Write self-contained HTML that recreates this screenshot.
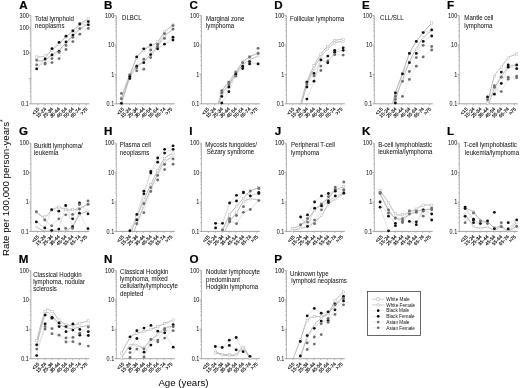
<!DOCTYPE html><html><head><meta charset="utf-8"><style>html,body{margin:0;padding:0;background:#fff;}svg{display:block;filter:blur(0.35px);} text{font-family:"Liberation Sans", sans-serif;}</style></head><body>
<svg width="520" height="388" viewBox="0 0 520 388">
<rect width="520" height="388" fill="#fff"/>
<text x="19.21" y="9.1" font-size="11.6" font-weight="bold" fill="#000" stroke="#000" stroke-width="0.2">A</text>
<path d="M30.9 15.6V103.8" fill="none" stroke="#b4b4b4" stroke-width="1"/>
<path d="M30.4 103.8H89.4" fill="none" stroke="#9a9a9a" stroke-width="0.9"/>
<path d="M30.9 103.8h-1.9M30.9 78.43h-1.9M30.9 53.07h-1.9M30.9 27.7h-1.9M30.9 15.6h-2.4" fill="none" stroke="#9a9a9a" stroke-width="0.8"/>
<path d="M30.9 96.16h-1.2M30.9 91.7h-1.2M30.9 88.53h-1.2M30.9 86.07h-1.2M30.9 84.06h-1.2M30.9 82.36h-1.2M30.9 80.89h-1.2M30.9 79.59h-1.2M30.9 70.8h-1.2M30.9 66.33h-1.2M30.9 63.16h-1.2M30.9 60.7h-1.2M30.9 58.7h-1.2M30.9 57h-1.2M30.9 55.53h-1.2M30.9 54.23h-1.2M30.9 45.43h-1.2M30.9 40.97h-1.2M30.9 37.8h-1.2M30.9 35.34h-1.2M30.9 33.33h-1.2M30.9 31.63h-1.2M30.9 30.16h-1.2M30.9 28.86h-1.2M30.9 20.07h-1.2M30.9 15.6h-1.2M37.9 103.8v1.6M44.8 103.8v1.6M51.7 103.8v1.6M58.6 103.8v1.6M65.5 103.8v1.6M72.4 103.8v1.6M79.3 103.8v1.6M86.2 103.8v1.6" fill="none" stroke="#9a9a9a" stroke-width="0.6"/>
<text x="0" y="0" font-size="5.8" text-anchor="end" fill="#222" stroke="#222" stroke-width="0.04" transform="translate(28.8 105.9) scale(0.95 1.13)">0.1</text>
<text x="0" y="0" font-size="5.8" text-anchor="end" fill="#222" stroke="#222" stroke-width="0.04" transform="translate(28.8 55.17) scale(0.95 1.13)">10</text>
<text x="0" y="0" font-size="5.8" text-anchor="end" fill="#222" stroke="#222" stroke-width="0.04" transform="translate(28.8 29.8) scale(0.95 1.13)">100</text>
<text x="0" y="0" font-size="5.8" text-anchor="end" fill="#222" stroke="#222" stroke-width="0.04" transform="translate(28.8 17.7) scale(0.95 1.13)">300</text>
<text x="0" y="0" font-size="4.8" text-anchor="end" fill="#000" stroke="#000" stroke-width="0.14" transform="translate(39.7 109.4) rotate(-45)">&lt;15</text>
<text x="0" y="0" font-size="4.8" text-anchor="end" fill="#000" stroke="#000" stroke-width="0.14" transform="translate(46.6 109.4) rotate(-45)">15-24</text>
<text x="0" y="0" font-size="4.8" text-anchor="end" fill="#000" stroke="#000" stroke-width="0.14" transform="translate(53.5 109.4) rotate(-45)">25-34</text>
<text x="0" y="0" font-size="4.8" text-anchor="end" fill="#000" stroke="#000" stroke-width="0.14" transform="translate(60.4 109.4) rotate(-45)">35-44</text>
<text x="0" y="0" font-size="4.8" text-anchor="end" fill="#000" stroke="#000" stroke-width="0.14" transform="translate(67.3 109.4) rotate(-45)">45-54</text>
<text x="0" y="0" font-size="4.8" text-anchor="end" fill="#000" stroke="#000" stroke-width="0.14" transform="translate(74.2 109.4) rotate(-45)">55-64</text>
<text x="0" y="0" font-size="4.8" text-anchor="end" fill="#000" stroke="#000" stroke-width="0.14" transform="translate(81.1 109.4) rotate(-45)">65-74</text>
<text x="0" y="0" font-size="4.8" text-anchor="end" fill="#000" stroke="#000" stroke-width="0.14" transform="translate(88 109.4) rotate(-45)">&gt;75</text>
<text x="0" y="0" font-size="6.1" fill="#111" stroke="#111" stroke-width="0.03" transform="translate(35 20.8) scale(1 1.12)">Total lymphoid</text>
<text x="0" y="0" font-size="6.1" fill="#111" stroke="#111" stroke-width="0.03" transform="translate(35 28.1) scale(1 1.12)">neoplasms</text>
<clipPath id="c1"><rect x="30.9" y="9.6" width="62.5" height="94.2"/></clipPath>
<g clip-path="url(#c1)">
<polyline points="36.7 68.9 45.1 59 52 48.7 59.1 42.4 66 36.2 72.9 30.8 79.8 24 88.3 21.6" fill="none" stroke="#cfcfcf" stroke-width="0.55"/>
<polyline points="36.7 68.9 45.1 59 52 54.9 59.1 51.3 66 41.9 72.9 35.1 79.8 24 88.3 24.8" fill="none" stroke="#cfcfcf" stroke-width="0.55"/>
<polyline points="36.7 60.1 45.1 63.1 52 58.6 59.1 52.4 66 45.4 72.9 37.3 79.8 28.6 88.3 28.4" fill="none" stroke="#dedede" stroke-width="0.55"/>
<polyline points="36.7 64.8 45.1 64 52 62.6 59.1 58.6 66 49.5 72.9 41.6 79.8 34.2 88.3 28.4" fill="none" stroke="#dedede" stroke-width="0.55"/>
<path d="M36.7 57C38.1 56.83 42.55 57.17 45.1 56C47.65 54.83 49.67 52 52 50C54.33 48 56.77 46.17 59.1 44C61.43 41.83 63.7 39.17 66 37C68.3 34.83 70.6 33.17 72.9 31C75.2 28.83 77.23 26 79.8 24C82.37 22 86.88 19.83 88.3 19" fill="none" stroke="#b2b2b2" stroke-width="0.9"/>
<path d="M36.7 61C38.1 60.83 42.55 61 45.1 60C47.65 59 49.67 56.67 52 55C54.33 53.33 56.77 52 59.1 50C61.43 48 63.7 45.33 66 43C68.3 40.67 70.6 38.33 72.9 36C75.2 33.67 77.23 31 79.8 29C82.37 27 86.88 24.83 88.3 24" fill="none" stroke="#b2b2b2" stroke-width="0.9"/>
</g>
<rect x="35.55" y="55.85" width="2.3" height="2.3" fill="#fff" stroke="#b8b8b8" stroke-width="0.5"/>
<rect x="43.95" y="54.85" width="2.3" height="2.3" fill="#fff" stroke="#b8b8b8" stroke-width="0.5"/>
<rect x="50.85" y="48.85" width="2.3" height="2.3" fill="#fff" stroke="#b8b8b8" stroke-width="0.5"/>
<rect x="57.95" y="42.85" width="2.3" height="2.3" fill="#fff" stroke="#b8b8b8" stroke-width="0.5"/>
<rect x="64.85" y="35.85" width="2.3" height="2.3" fill="#fff" stroke="#b8b8b8" stroke-width="0.5"/>
<rect x="71.75" y="29.85" width="2.3" height="2.3" fill="#fff" stroke="#b8b8b8" stroke-width="0.5"/>
<rect x="78.65" y="22.85" width="2.3" height="2.3" fill="#fff" stroke="#b8b8b8" stroke-width="0.5"/>
<rect x="87.15" y="17.85" width="2.3" height="2.3" fill="#fff" stroke="#b8b8b8" stroke-width="0.5"/>
<circle cx="36.7" cy="61" r="1.15" fill="#fff" stroke="#b8b8b8" stroke-width="0.5"/>
<circle cx="45.1" cy="60" r="1.15" fill="#fff" stroke="#b8b8b8" stroke-width="0.5"/>
<circle cx="52" cy="55" r="1.15" fill="#fff" stroke="#b8b8b8" stroke-width="0.5"/>
<circle cx="59.1" cy="50" r="1.15" fill="#fff" stroke="#b8b8b8" stroke-width="0.5"/>
<circle cx="66" cy="43" r="1.15" fill="#fff" stroke="#b8b8b8" stroke-width="0.5"/>
<circle cx="72.9" cy="36" r="1.15" fill="#fff" stroke="#b8b8b8" stroke-width="0.5"/>
<circle cx="79.8" cy="29" r="1.15" fill="#fff" stroke="#b8b8b8" stroke-width="0.5"/>
<circle cx="88.3" cy="24" r="1.15" fill="#fff" stroke="#b8b8b8" stroke-width="0.5"/>
<circle cx="36.7" cy="60.1" r="1.42" fill="#6e6e6e"/>
<circle cx="36.7" cy="64.8" r="1.42" fill="#6e6e6e"/>
<circle cx="36.7" cy="68.9" r="1.42" fill="#111"/>
<circle cx="45.1" cy="59" r="1.42" fill="#111"/>
<circle cx="45.1" cy="63.1" r="1.42" fill="#6e6e6e"/>
<circle cx="45.1" cy="64" r="1.42" fill="#6e6e6e"/>
<circle cx="52" cy="48.7" r="1.42" fill="#111"/>
<circle cx="52" cy="54.9" r="1.42" fill="#111"/>
<circle cx="52" cy="58.6" r="1.42" fill="#6e6e6e"/>
<circle cx="52" cy="62.6" r="1.42" fill="#6e6e6e"/>
<circle cx="59.1" cy="42.4" r="1.42" fill="#111"/>
<circle cx="59.1" cy="51.3" r="1.42" fill="#111"/>
<circle cx="59.1" cy="52.4" r="1.42" fill="#6e6e6e"/>
<circle cx="59.1" cy="58.6" r="1.42" fill="#6e6e6e"/>
<circle cx="66" cy="36.2" r="1.42" fill="#111"/>
<circle cx="66" cy="41.9" r="1.42" fill="#111"/>
<circle cx="66" cy="45.4" r="1.42" fill="#6e6e6e"/>
<circle cx="66" cy="49.5" r="1.42" fill="#6e6e6e"/>
<circle cx="72.9" cy="30.8" r="1.42" fill="#111"/>
<circle cx="72.9" cy="35.1" r="1.42" fill="#111"/>
<circle cx="72.9" cy="37.3" r="1.42" fill="#6e6e6e"/>
<circle cx="72.9" cy="41.6" r="1.42" fill="#6e6e6e"/>
<circle cx="79.8" cy="24" r="1.42" fill="#111"/>
<circle cx="79.8" cy="28.6" r="1.42" fill="#6e6e6e"/>
<circle cx="79.8" cy="34.2" r="1.42" fill="#6e6e6e"/>
<circle cx="88.3" cy="21.6" r="1.42" fill="#111"/>
<circle cx="88.3" cy="24.8" r="1.42" fill="#111"/>
<circle cx="88.3" cy="28.4" r="1.42" fill="#6e6e6e"/>
<text x="104.12" y="9.1" font-size="11.6" font-weight="bold" fill="#000" stroke="#000" stroke-width="0.2">B</text>
<path d="M116.3 15.6V103.8" fill="none" stroke="#b4b4b4" stroke-width="1"/>
<path d="M115.8 103.8H174.8" fill="none" stroke="#9a9a9a" stroke-width="0.9"/>
<path d="M116.3 103.8h-1.9M116.3 74.4h-1.9M116.3 45h-1.9M116.3 15.6h-1.9" fill="none" stroke="#9a9a9a" stroke-width="0.8"/>
<path d="M116.3 94.95h-1.2M116.3 89.77h-1.2M116.3 86.1h-1.2M116.3 83.25h-1.2M116.3 80.92h-1.2M116.3 78.95h-1.2M116.3 77.25h-1.2M116.3 75.75h-1.2M116.3 65.55h-1.2M116.3 60.37h-1.2M116.3 56.7h-1.2M116.3 53.85h-1.2M116.3 51.52h-1.2M116.3 49.55h-1.2M116.3 47.85h-1.2M116.3 46.35h-1.2M116.3 36.15h-1.2M116.3 30.97h-1.2M116.3 27.3h-1.2M116.3 24.45h-1.2M116.3 22.12h-1.2M116.3 20.15h-1.2M116.3 18.45h-1.2M116.3 16.95h-1.2M122.6 103.8v1.6M129.5 103.8v1.6M136.4 103.8v1.6M143.3 103.8v1.6M150.2 103.8v1.6M157.1 103.8v1.6M164 103.8v1.6M170.9 103.8v1.6" fill="none" stroke="#9a9a9a" stroke-width="0.6"/>
<text x="0" y="0" font-size="5.8" text-anchor="end" fill="#222" stroke="#222" stroke-width="0.04" transform="translate(114.2 105.9) scale(0.95 1.13)">0.1</text>
<text x="0" y="0" font-size="5.8" text-anchor="end" fill="#222" stroke="#222" stroke-width="0.04" transform="translate(114.2 76.5) scale(0.95 1.13)">1</text>
<text x="0" y="0" font-size="5.8" text-anchor="end" fill="#222" stroke="#222" stroke-width="0.04" transform="translate(114.2 47.1) scale(0.95 1.13)">10</text>
<text x="0" y="0" font-size="5.8" text-anchor="end" fill="#222" stroke="#222" stroke-width="0.04" transform="translate(114.2 17.7) scale(0.95 1.13)">100</text>
<text x="0" y="0" font-size="4.8" text-anchor="end" fill="#000" stroke="#000" stroke-width="0.14" transform="translate(124.4 109.4) rotate(-45)">&lt;15</text>
<text x="0" y="0" font-size="4.8" text-anchor="end" fill="#000" stroke="#000" stroke-width="0.14" transform="translate(131.3 109.4) rotate(-45)">15-24</text>
<text x="0" y="0" font-size="4.8" text-anchor="end" fill="#000" stroke="#000" stroke-width="0.14" transform="translate(138.2 109.4) rotate(-45)">25-34</text>
<text x="0" y="0" font-size="4.8" text-anchor="end" fill="#000" stroke="#000" stroke-width="0.14" transform="translate(145.1 109.4) rotate(-45)">35-44</text>
<text x="0" y="0" font-size="4.8" text-anchor="end" fill="#000" stroke="#000" stroke-width="0.14" transform="translate(152 109.4) rotate(-45)">45-54</text>
<text x="0" y="0" font-size="4.8" text-anchor="end" fill="#000" stroke="#000" stroke-width="0.14" transform="translate(158.9 109.4) rotate(-45)">55-64</text>
<text x="0" y="0" font-size="4.8" text-anchor="end" fill="#000" stroke="#000" stroke-width="0.14" transform="translate(165.8 109.4) rotate(-45)">65-74</text>
<text x="0" y="0" font-size="4.8" text-anchor="end" fill="#000" stroke="#000" stroke-width="0.14" transform="translate(172.7 109.4) rotate(-45)">&gt;75</text>
<text x="0" y="0" font-size="6.1" fill="#111" stroke="#111" stroke-width="0.03" transform="translate(122 20.2) scale(1 1.12)">DLBCL</text>
<clipPath id="c2"><rect x="116.3" y="9.6" width="62.5" height="94.2"/></clipPath>
<g clip-path="url(#c2)">
<polyline points="121.4 103.3 129.8 76.6 136.7 56.9 143.8 48.8 150.7 44.9 157.6 48.8 164.5 44.2 173 37.2" fill="none" stroke="#cfcfcf" stroke-width="0.55"/>
<polyline points="121.4 103.3 129.8 78.5 136.7 66.2 143.8 62.7 150.7 54.6 157.6 48.8 164.5 44.2 173 40" fill="none" stroke="#cfcfcf" stroke-width="0.55"/>
<polyline points="121.4 93.4 129.8 74.8 136.7 68.1 143.8 59.2 150.7 50 157.6 44.2 164.5 33.7 173 25.6" fill="none" stroke="#dedede" stroke-width="0.55"/>
<polyline points="121.4 98.7 129.8 74.8 136.7 70.8 143.8 69.2 150.7 57.6 157.6 46.5 164.5 38.4 173 29.1" fill="none" stroke="#dedede" stroke-width="0.55"/>
<path d="M121.4 98C122.8 94.17 127.25 81.67 129.8 75C132.35 68.33 134.37 62.17 136.7 58C139.03 53.83 141.47 52 143.8 50C146.13 48 148.4 47.33 150.7 46C153 44.67 155.3 44.33 157.6 42C159.9 39.67 161.93 34.83 164.5 32C167.07 29.17 171.58 26.17 173 25" fill="none" stroke="#b2b2b2" stroke-width="0.9"/>
<path d="M121.4 103C122.8 98.67 127.25 83.17 129.8 77C132.35 70.83 134.37 68.5 136.7 66C139.03 63.5 141.47 64 143.8 62C146.13 60 148.4 56.67 150.7 54C153 51.33 155.3 49 157.6 46C159.9 43 161.93 38.83 164.5 36C167.07 33.17 171.58 30.17 173 29" fill="none" stroke="#b2b2b2" stroke-width="0.9"/>
</g>
<rect x="120.25" y="96.85" width="2.3" height="2.3" fill="#fff" stroke="#b8b8b8" stroke-width="0.5"/>
<rect x="128.65" y="73.85" width="2.3" height="2.3" fill="#fff" stroke="#b8b8b8" stroke-width="0.5"/>
<rect x="135.55" y="56.85" width="2.3" height="2.3" fill="#fff" stroke="#b8b8b8" stroke-width="0.5"/>
<rect x="142.65" y="48.85" width="2.3" height="2.3" fill="#fff" stroke="#b8b8b8" stroke-width="0.5"/>
<rect x="149.55" y="44.85" width="2.3" height="2.3" fill="#fff" stroke="#b8b8b8" stroke-width="0.5"/>
<rect x="156.45" y="40.85" width="2.3" height="2.3" fill="#fff" stroke="#b8b8b8" stroke-width="0.5"/>
<rect x="163.35" y="30.85" width="2.3" height="2.3" fill="#fff" stroke="#b8b8b8" stroke-width="0.5"/>
<rect x="171.85" y="23.85" width="2.3" height="2.3" fill="#fff" stroke="#b8b8b8" stroke-width="0.5"/>
<circle cx="121.4" cy="103" r="1.15" fill="#fff" stroke="#b8b8b8" stroke-width="0.5"/>
<circle cx="129.8" cy="77" r="1.15" fill="#fff" stroke="#b8b8b8" stroke-width="0.5"/>
<circle cx="136.7" cy="66" r="1.15" fill="#fff" stroke="#b8b8b8" stroke-width="0.5"/>
<circle cx="143.8" cy="62" r="1.15" fill="#fff" stroke="#b8b8b8" stroke-width="0.5"/>
<circle cx="150.7" cy="54" r="1.15" fill="#fff" stroke="#b8b8b8" stroke-width="0.5"/>
<circle cx="157.6" cy="46" r="1.15" fill="#fff" stroke="#b8b8b8" stroke-width="0.5"/>
<circle cx="164.5" cy="36" r="1.15" fill="#fff" stroke="#b8b8b8" stroke-width="0.5"/>
<circle cx="173" cy="29" r="1.15" fill="#fff" stroke="#b8b8b8" stroke-width="0.5"/>
<circle cx="121.4" cy="93.4" r="1.42" fill="#6e6e6e"/>
<circle cx="121.4" cy="98.7" r="1.42" fill="#6e6e6e"/>
<circle cx="121.4" cy="103.3" r="1.42" fill="#111"/>
<circle cx="129.8" cy="74.8" r="1.42" fill="#6e6e6e"/>
<circle cx="129.8" cy="76.6" r="1.42" fill="#111"/>
<circle cx="129.8" cy="78.5" r="1.42" fill="#111"/>
<circle cx="136.7" cy="56.9" r="1.42" fill="#111"/>
<circle cx="136.7" cy="66.2" r="1.42" fill="#111"/>
<circle cx="136.7" cy="68.1" r="1.42" fill="#6e6e6e"/>
<circle cx="136.7" cy="70.8" r="1.42" fill="#6e6e6e"/>
<circle cx="143.8" cy="48.8" r="1.42" fill="#111"/>
<circle cx="143.8" cy="59.2" r="1.42" fill="#6e6e6e"/>
<circle cx="143.8" cy="62.7" r="1.42" fill="#111"/>
<circle cx="143.8" cy="69.2" r="1.42" fill="#6e6e6e"/>
<circle cx="150.7" cy="44.9" r="1.42" fill="#111"/>
<circle cx="150.7" cy="50" r="1.42" fill="#6e6e6e"/>
<circle cx="150.7" cy="54.6" r="1.42" fill="#111"/>
<circle cx="150.7" cy="57.6" r="1.42" fill="#6e6e6e"/>
<circle cx="157.6" cy="44.2" r="1.42" fill="#6e6e6e"/>
<circle cx="157.6" cy="46.5" r="1.42" fill="#6e6e6e"/>
<circle cx="157.6" cy="48.8" r="1.42" fill="#111"/>
<circle cx="164.5" cy="33.7" r="1.42" fill="#6e6e6e"/>
<circle cx="164.5" cy="38.4" r="1.42" fill="#6e6e6e"/>
<circle cx="164.5" cy="44.2" r="1.42" fill="#111"/>
<circle cx="173" cy="25.6" r="1.42" fill="#6e6e6e"/>
<circle cx="173" cy="29.1" r="1.42" fill="#6e6e6e"/>
<circle cx="173" cy="37.2" r="1.42" fill="#111"/>
<circle cx="173" cy="40" r="1.42" fill="#111"/>
<text x="189.52" y="9.1" font-size="11.6" font-weight="bold" fill="#000" stroke="#000" stroke-width="0.2">C</text>
<path d="M201.4 15.6V103.8" fill="none" stroke="#b4b4b4" stroke-width="1"/>
<path d="M200.9 103.8H259.9" fill="none" stroke="#9a9a9a" stroke-width="0.9"/>
<path d="M201.4 103.8h-1.9M201.4 74.4h-1.9M201.4 45h-1.9M201.4 15.6h-1.9" fill="none" stroke="#9a9a9a" stroke-width="0.8"/>
<path d="M201.4 94.95h-1.2M201.4 89.77h-1.2M201.4 86.1h-1.2M201.4 83.25h-1.2M201.4 80.92h-1.2M201.4 78.95h-1.2M201.4 77.25h-1.2M201.4 75.75h-1.2M201.4 65.55h-1.2M201.4 60.37h-1.2M201.4 56.7h-1.2M201.4 53.85h-1.2M201.4 51.52h-1.2M201.4 49.55h-1.2M201.4 47.85h-1.2M201.4 46.35h-1.2M201.4 36.15h-1.2M201.4 30.97h-1.2M201.4 27.3h-1.2M201.4 24.45h-1.2M201.4 22.12h-1.2M201.4 20.15h-1.2M201.4 18.45h-1.2M201.4 16.95h-1.2M207.7 103.8v1.6M214.6 103.8v1.6M221.5 103.8v1.6M228.4 103.8v1.6M235.3 103.8v1.6M242.2 103.8v1.6M249.1 103.8v1.6M256 103.8v1.6" fill="none" stroke="#9a9a9a" stroke-width="0.6"/>
<text x="0" y="0" font-size="5.8" text-anchor="end" fill="#222" stroke="#222" stroke-width="0.04" transform="translate(199.3 105.9) scale(0.95 1.13)">0.1</text>
<text x="0" y="0" font-size="5.8" text-anchor="end" fill="#222" stroke="#222" stroke-width="0.04" transform="translate(199.3 76.5) scale(0.95 1.13)">1</text>
<text x="0" y="0" font-size="5.8" text-anchor="end" fill="#222" stroke="#222" stroke-width="0.04" transform="translate(199.3 47.1) scale(0.95 1.13)">10</text>
<text x="0" y="0" font-size="5.8" text-anchor="end" fill="#222" stroke="#222" stroke-width="0.04" transform="translate(199.3 17.7) scale(0.95 1.13)">100</text>
<text x="0" y="0" font-size="4.8" text-anchor="end" fill="#000" stroke="#000" stroke-width="0.14" transform="translate(209.5 109.4) rotate(-45)">&lt;15</text>
<text x="0" y="0" font-size="4.8" text-anchor="end" fill="#000" stroke="#000" stroke-width="0.14" transform="translate(216.4 109.4) rotate(-45)">15-24</text>
<text x="0" y="0" font-size="4.8" text-anchor="end" fill="#000" stroke="#000" stroke-width="0.14" transform="translate(223.3 109.4) rotate(-45)">25-34</text>
<text x="0" y="0" font-size="4.8" text-anchor="end" fill="#000" stroke="#000" stroke-width="0.14" transform="translate(230.2 109.4) rotate(-45)">35-44</text>
<text x="0" y="0" font-size="4.8" text-anchor="end" fill="#000" stroke="#000" stroke-width="0.14" transform="translate(237.1 109.4) rotate(-45)">45-54</text>
<text x="0" y="0" font-size="4.8" text-anchor="end" fill="#000" stroke="#000" stroke-width="0.14" transform="translate(244 109.4) rotate(-45)">55-64</text>
<text x="0" y="0" font-size="4.8" text-anchor="end" fill="#000" stroke="#000" stroke-width="0.14" transform="translate(250.9 109.4) rotate(-45)">65-74</text>
<text x="0" y="0" font-size="4.8" text-anchor="end" fill="#000" stroke="#000" stroke-width="0.14" transform="translate(257.8 109.4) rotate(-45)">&gt;75</text>
<text x="0" y="0" font-size="6.1" fill="#111" stroke="#111" stroke-width="0.03" transform="translate(206 20.8) scale(1 1.12)">Marginal zone</text>
<text x="0" y="0" font-size="6.1" fill="#111" stroke="#111" stroke-width="0.03" transform="translate(206 28.1) scale(1 1.12)">lymphoma</text>
<clipPath id="c3"><rect x="201.4" y="9.6" width="62.5" height="94.2"/></clipPath>
<g clip-path="url(#c3)">
<polyline points="221.8 96.4 228.9 87.1 235.8 74.3 242.7 66.2 249.6 61.6 258.1 63.9" fill="none" stroke="#cfcfcf" stroke-width="0.55"/>
<polyline points="221.8 102.9 228.9 91.7 235.8 74.3 242.7 68.5 249.6 63.9 258.1 63.9" fill="none" stroke="#cfcfcf" stroke-width="0.55"/>
<polyline points="221.8 90.6 228.9 82.4 235.8 72.5 242.7 62.7 249.6 56.9 258.1 48.3" fill="none" stroke="#dedede" stroke-width="0.55"/>
<polyline points="221.8 92.9 228.9 84.8 235.8 76.2 242.7 62.7 249.6 56.9 258.1 53.4" fill="none" stroke="#dedede" stroke-width="0.55"/>
<path d="M214.9 116C216.05 112 219.47 97.67 221.8 92C224.13 86.33 226.57 85.33 228.9 82C231.23 78.67 233.5 75.33 235.8 72C238.1 68.67 240.4 64.5 242.7 62C245 59.5 247.03 58.5 249.6 57C252.17 55.5 256.68 53.67 258.1 53" fill="none" stroke="#b2b2b2" stroke-width="0.9"/>
<path d="M214.9 120C216.05 115.83 219.47 100.83 221.8 95C224.13 89.17 226.57 88.5 228.9 85C231.23 81.5 233.5 77.33 235.8 74C238.1 70.67 240.4 67.33 242.7 65C245 62.67 247.03 61.5 249.6 60C252.17 58.5 256.68 56.67 258.1 56" fill="none" stroke="#b2b2b2" stroke-width="0.9"/>
</g>
<rect x="220.65" y="90.85" width="2.3" height="2.3" fill="#fff" stroke="#b8b8b8" stroke-width="0.5"/>
<rect x="227.75" y="80.85" width="2.3" height="2.3" fill="#fff" stroke="#b8b8b8" stroke-width="0.5"/>
<rect x="234.65" y="70.85" width="2.3" height="2.3" fill="#fff" stroke="#b8b8b8" stroke-width="0.5"/>
<rect x="241.55" y="60.85" width="2.3" height="2.3" fill="#fff" stroke="#b8b8b8" stroke-width="0.5"/>
<rect x="248.45" y="55.85" width="2.3" height="2.3" fill="#fff" stroke="#b8b8b8" stroke-width="0.5"/>
<rect x="256.95" y="51.85" width="2.3" height="2.3" fill="#fff" stroke="#b8b8b8" stroke-width="0.5"/>
<circle cx="221.8" cy="95" r="1.15" fill="#fff" stroke="#b8b8b8" stroke-width="0.5"/>
<circle cx="228.9" cy="85" r="1.15" fill="#fff" stroke="#b8b8b8" stroke-width="0.5"/>
<circle cx="235.8" cy="74" r="1.15" fill="#fff" stroke="#b8b8b8" stroke-width="0.5"/>
<circle cx="242.7" cy="65" r="1.15" fill="#fff" stroke="#b8b8b8" stroke-width="0.5"/>
<circle cx="249.6" cy="60" r="1.15" fill="#fff" stroke="#b8b8b8" stroke-width="0.5"/>
<circle cx="258.1" cy="56" r="1.15" fill="#fff" stroke="#b8b8b8" stroke-width="0.5"/>
<circle cx="221.8" cy="90.6" r="1.42" fill="#6e6e6e"/>
<circle cx="221.8" cy="92.9" r="1.42" fill="#6e6e6e"/>
<circle cx="221.8" cy="96.4" r="1.42" fill="#111"/>
<circle cx="221.8" cy="102.9" r="1.42" fill="#111"/>
<circle cx="228.9" cy="82.4" r="1.42" fill="#6e6e6e"/>
<circle cx="228.9" cy="84.8" r="1.42" fill="#6e6e6e"/>
<circle cx="228.9" cy="87.1" r="1.42" fill="#111"/>
<circle cx="228.9" cy="91.7" r="1.42" fill="#111"/>
<circle cx="235.8" cy="72.5" r="1.42" fill="#6e6e6e"/>
<circle cx="235.8" cy="74.3" r="1.42" fill="#111"/>
<circle cx="235.8" cy="76.2" r="1.42" fill="#6e6e6e"/>
<circle cx="242.7" cy="62.7" r="1.42" fill="#6e6e6e"/>
<circle cx="242.7" cy="66.2" r="1.42" fill="#111"/>
<circle cx="242.7" cy="68.5" r="1.42" fill="#111"/>
<circle cx="249.6" cy="56.9" r="1.42" fill="#6e6e6e"/>
<circle cx="249.6" cy="61.6" r="1.42" fill="#111"/>
<circle cx="249.6" cy="63.9" r="1.42" fill="#111"/>
<circle cx="258.1" cy="48.3" r="1.42" fill="#6e6e6e"/>
<circle cx="258.1" cy="53.4" r="1.42" fill="#6e6e6e"/>
<circle cx="258.1" cy="63.9" r="1.42" fill="#111"/>
<text x="274.22" y="9.1" font-size="11.6" font-weight="bold" fill="#000" stroke="#000" stroke-width="0.2">D</text>
<path d="M286.4 15.6V103.8" fill="none" stroke="#b4b4b4" stroke-width="1"/>
<path d="M285.9 103.8H344.9" fill="none" stroke="#9a9a9a" stroke-width="0.9"/>
<path d="M286.4 103.8h-1.9M286.4 74.4h-1.9M286.4 45h-1.9M286.4 15.6h-1.9" fill="none" stroke="#9a9a9a" stroke-width="0.8"/>
<path d="M286.4 94.95h-1.2M286.4 89.77h-1.2M286.4 86.1h-1.2M286.4 83.25h-1.2M286.4 80.92h-1.2M286.4 78.95h-1.2M286.4 77.25h-1.2M286.4 75.75h-1.2M286.4 65.55h-1.2M286.4 60.37h-1.2M286.4 56.7h-1.2M286.4 53.85h-1.2M286.4 51.52h-1.2M286.4 49.55h-1.2M286.4 47.85h-1.2M286.4 46.35h-1.2M286.4 36.15h-1.2M286.4 30.97h-1.2M286.4 27.3h-1.2M286.4 24.45h-1.2M286.4 22.12h-1.2M286.4 20.15h-1.2M286.4 18.45h-1.2M286.4 16.95h-1.2M292.8 103.8v1.6M299.7 103.8v1.6M306.6 103.8v1.6M313.5 103.8v1.6M320.4 103.8v1.6M327.3 103.8v1.6M334.2 103.8v1.6M341.1 103.8v1.6" fill="none" stroke="#9a9a9a" stroke-width="0.6"/>
<text x="0" y="0" font-size="5.8" text-anchor="end" fill="#222" stroke="#222" stroke-width="0.04" transform="translate(284.3 105.9) scale(0.95 1.13)">0.1</text>
<text x="0" y="0" font-size="5.8" text-anchor="end" fill="#222" stroke="#222" stroke-width="0.04" transform="translate(284.3 76.5) scale(0.95 1.13)">1</text>
<text x="0" y="0" font-size="5.8" text-anchor="end" fill="#222" stroke="#222" stroke-width="0.04" transform="translate(284.3 47.1) scale(0.95 1.13)">10</text>
<text x="0" y="0" font-size="5.8" text-anchor="end" fill="#222" stroke="#222" stroke-width="0.04" transform="translate(284.3 17.7) scale(0.95 1.13)">100</text>
<text x="0" y="0" font-size="4.8" text-anchor="end" fill="#000" stroke="#000" stroke-width="0.14" transform="translate(294.6 109.4) rotate(-45)">&lt;15</text>
<text x="0" y="0" font-size="4.8" text-anchor="end" fill="#000" stroke="#000" stroke-width="0.14" transform="translate(301.5 109.4) rotate(-45)">15-24</text>
<text x="0" y="0" font-size="4.8" text-anchor="end" fill="#000" stroke="#000" stroke-width="0.14" transform="translate(308.4 109.4) rotate(-45)">25-34</text>
<text x="0" y="0" font-size="4.8" text-anchor="end" fill="#000" stroke="#000" stroke-width="0.14" transform="translate(315.3 109.4) rotate(-45)">35-44</text>
<text x="0" y="0" font-size="4.8" text-anchor="end" fill="#000" stroke="#000" stroke-width="0.14" transform="translate(322.2 109.4) rotate(-45)">45-54</text>
<text x="0" y="0" font-size="4.8" text-anchor="end" fill="#000" stroke="#000" stroke-width="0.14" transform="translate(329.1 109.4) rotate(-45)">55-64</text>
<text x="0" y="0" font-size="4.8" text-anchor="end" fill="#000" stroke="#000" stroke-width="0.14" transform="translate(336 109.4) rotate(-45)">65-74</text>
<text x="0" y="0" font-size="4.8" text-anchor="end" fill="#000" stroke="#000" stroke-width="0.14" transform="translate(342.9 109.4) rotate(-45)">&gt;75</text>
<text x="0" y="0" font-size="6.1" fill="#111" stroke="#111" stroke-width="0.03" transform="translate(290 20.8) scale(1 1.12)">Follicular lymphoma</text>
<clipPath id="c4"><rect x="286.4" y="9.6" width="62.5" height="94.2"/></clipPath>
<g clip-path="url(#c4)">
<polyline points="306.9 82.1 314 73.4 320.9 59.9 327.8 56.1 334.7 50.3 343.2 47.8" fill="none" stroke="#cfcfcf" stroke-width="0.55"/>
<polyline points="306.9 87 314 81.2 320.9 59.9 327.8 62.8 334.7 52.2 343.2 50.3" fill="none" stroke="#cfcfcf" stroke-width="0.55"/>
<polyline points="306.9 99.1 314 81.2 320.9 59.9 327.8 62.8 334.7 52.2 343.2 50.3" fill="none" stroke="#cfcfcf" stroke-width="0.55"/>
<polyline points="306.9 84 314 75.8 320.9 66.1 327.8 60.9 334.7 54.7 343.2 55.1" fill="none" stroke="#dedede" stroke-width="0.55"/>
<polyline points="306.9 84 314 75.8 320.9 70.5 327.8 60.9 334.7 54.7 343.2 55.1" fill="none" stroke="#dedede" stroke-width="0.55"/>
<path d="M300 106C301.15 102.02 304.57 88.82 306.9 82.1C309.23 75.38 311.67 70.37 314 65.7C316.33 61.03 318.6 57.32 320.9 54.1C323.2 50.88 325.5 48.65 327.8 46.4C330.1 44.15 332.13 41.78 334.7 40.6C337.27 39.42 341.78 39.52 343.2 39.3" fill="none" stroke="#b2b2b2" stroke-width="0.9"/>
<path d="M300 110C301.15 105.83 304.57 91.92 306.9 85C309.23 78.08 311.67 73.17 314 68.5C316.33 63.83 318.6 60.25 320.9 57C323.2 53.75 325.5 51.33 327.8 49C330.1 46.67 332.13 44.25 334.7 43C337.27 41.75 341.78 41.75 343.2 41.5" fill="none" stroke="#b2b2b2" stroke-width="0.9"/>
</g>
<rect x="305.75" y="80.95" width="2.3" height="2.3" fill="#fff" stroke="#b8b8b8" stroke-width="0.5"/>
<rect x="312.85" y="64.55" width="2.3" height="2.3" fill="#fff" stroke="#b8b8b8" stroke-width="0.5"/>
<rect x="319.75" y="52.95" width="2.3" height="2.3" fill="#fff" stroke="#b8b8b8" stroke-width="0.5"/>
<rect x="326.65" y="45.25" width="2.3" height="2.3" fill="#fff" stroke="#b8b8b8" stroke-width="0.5"/>
<rect x="333.55" y="39.45" width="2.3" height="2.3" fill="#fff" stroke="#b8b8b8" stroke-width="0.5"/>
<rect x="342.05" y="38.15" width="2.3" height="2.3" fill="#fff" stroke="#b8b8b8" stroke-width="0.5"/>
<circle cx="306.9" cy="85" r="1.15" fill="#fff" stroke="#b8b8b8" stroke-width="0.5"/>
<circle cx="314" cy="68.5" r="1.15" fill="#fff" stroke="#b8b8b8" stroke-width="0.5"/>
<circle cx="320.9" cy="57" r="1.15" fill="#fff" stroke="#b8b8b8" stroke-width="0.5"/>
<circle cx="327.8" cy="49" r="1.15" fill="#fff" stroke="#b8b8b8" stroke-width="0.5"/>
<circle cx="334.7" cy="43" r="1.15" fill="#fff" stroke="#b8b8b8" stroke-width="0.5"/>
<circle cx="343.2" cy="41.5" r="1.15" fill="#fff" stroke="#b8b8b8" stroke-width="0.5"/>
<circle cx="306.9" cy="82.1" r="1.42" fill="#111"/>
<circle cx="306.9" cy="84" r="1.42" fill="#6e6e6e"/>
<circle cx="306.9" cy="87" r="1.42" fill="#111"/>
<circle cx="306.9" cy="99.1" r="1.42" fill="#111"/>
<circle cx="314" cy="73.4" r="1.42" fill="#111"/>
<circle cx="314" cy="75.8" r="1.42" fill="#6e6e6e"/>
<circle cx="314" cy="81.2" r="1.42" fill="#111"/>
<circle cx="320.9" cy="59.9" r="1.42" fill="#111"/>
<circle cx="320.9" cy="66.1" r="1.42" fill="#6e6e6e"/>
<circle cx="320.9" cy="70.5" r="1.42" fill="#6e6e6e"/>
<circle cx="327.8" cy="56.1" r="1.42" fill="#111"/>
<circle cx="327.8" cy="60.9" r="1.42" fill="#6e6e6e"/>
<circle cx="327.8" cy="62.8" r="1.42" fill="#111"/>
<circle cx="334.7" cy="50.3" r="1.42" fill="#111"/>
<circle cx="334.7" cy="52.2" r="1.42" fill="#111"/>
<circle cx="334.7" cy="54.7" r="1.42" fill="#6e6e6e"/>
<circle cx="343.2" cy="47.8" r="1.42" fill="#111"/>
<circle cx="343.2" cy="50.3" r="1.42" fill="#111"/>
<circle cx="343.2" cy="55.1" r="1.42" fill="#6e6e6e"/>
<text x="362.12" y="9.1" font-size="11.6" font-weight="bold" fill="#000" stroke="#000" stroke-width="0.2">E</text>
<path d="M374.3 15.6V103.8" fill="none" stroke="#b4b4b4" stroke-width="1"/>
<path d="M373.8 103.8H432.8" fill="none" stroke="#9a9a9a" stroke-width="0.9"/>
<path d="M374.3 103.8h-1.9M374.3 74.4h-1.9M374.3 45h-1.9M374.3 15.6h-1.9" fill="none" stroke="#9a9a9a" stroke-width="0.8"/>
<path d="M374.3 94.95h-1.2M374.3 89.77h-1.2M374.3 86.1h-1.2M374.3 83.25h-1.2M374.3 80.92h-1.2M374.3 78.95h-1.2M374.3 77.25h-1.2M374.3 75.75h-1.2M374.3 65.55h-1.2M374.3 60.37h-1.2M374.3 56.7h-1.2M374.3 53.85h-1.2M374.3 51.52h-1.2M374.3 49.55h-1.2M374.3 47.85h-1.2M374.3 46.35h-1.2M374.3 36.15h-1.2M374.3 30.97h-1.2M374.3 27.3h-1.2M374.3 24.45h-1.2M374.3 22.12h-1.2M374.3 20.15h-1.2M374.3 18.45h-1.2M374.3 16.95h-1.2M381.3 103.8v1.6M388.2 103.8v1.6M395.1 103.8v1.6M402 103.8v1.6M408.9 103.8v1.6M415.8 103.8v1.6M422.7 103.8v1.6M429.6 103.8v1.6" fill="none" stroke="#9a9a9a" stroke-width="0.6"/>
<text x="0" y="0" font-size="5.8" text-anchor="end" fill="#222" stroke="#222" stroke-width="0.04" transform="translate(372.2 105.9) scale(0.95 1.13)">0.1</text>
<text x="0" y="0" font-size="5.8" text-anchor="end" fill="#222" stroke="#222" stroke-width="0.04" transform="translate(372.2 76.5) scale(0.95 1.13)">1</text>
<text x="0" y="0" font-size="5.8" text-anchor="end" fill="#222" stroke="#222" stroke-width="0.04" transform="translate(372.2 47.1) scale(0.95 1.13)">10</text>
<text x="0" y="0" font-size="5.8" text-anchor="end" fill="#222" stroke="#222" stroke-width="0.04" transform="translate(372.2 17.7) scale(0.95 1.13)">100</text>
<text x="0" y="0" font-size="4.8" text-anchor="end" fill="#000" stroke="#000" stroke-width="0.14" transform="translate(383.1 109.4) rotate(-45)">&lt;15</text>
<text x="0" y="0" font-size="4.8" text-anchor="end" fill="#000" stroke="#000" stroke-width="0.14" transform="translate(390 109.4) rotate(-45)">15-24</text>
<text x="0" y="0" font-size="4.8" text-anchor="end" fill="#000" stroke="#000" stroke-width="0.14" transform="translate(396.9 109.4) rotate(-45)">25-34</text>
<text x="0" y="0" font-size="4.8" text-anchor="end" fill="#000" stroke="#000" stroke-width="0.14" transform="translate(403.8 109.4) rotate(-45)">35-44</text>
<text x="0" y="0" font-size="4.8" text-anchor="end" fill="#000" stroke="#000" stroke-width="0.14" transform="translate(410.7 109.4) rotate(-45)">45-54</text>
<text x="0" y="0" font-size="4.8" text-anchor="end" fill="#000" stroke="#000" stroke-width="0.14" transform="translate(417.6 109.4) rotate(-45)">55-64</text>
<text x="0" y="0" font-size="4.8" text-anchor="end" fill="#000" stroke="#000" stroke-width="0.14" transform="translate(424.5 109.4) rotate(-45)">65-74</text>
<text x="0" y="0" font-size="4.8" text-anchor="end" fill="#000" stroke="#000" stroke-width="0.14" transform="translate(431.4 109.4) rotate(-45)">&gt;75</text>
<text x="0" y="0" font-size="6.1" fill="#111" stroke="#111" stroke-width="0.03" transform="translate(380 20.3) scale(1 1.12)">CLL/SLL</text>
<clipPath id="c5"><rect x="374.3" y="9.6" width="62.5" height="94.2"/></clipPath>
<g clip-path="url(#c5)">
<polyline points="395.4 92.9 402.5 73.9 409.4 53.4 416.3 41.4 423.2 32.6 431.7 29.8" fill="none" stroke="#cfcfcf" stroke-width="0.55"/>
<polyline points="395.4 102.9 402.5 73.9 409.4 62.7 416.3 53.4 423.2 41.4 431.7 36" fill="none" stroke="#cfcfcf" stroke-width="0.55"/>
<polyline points="395.4 96.4 402.5 81.3 409.4 71.5 416.3 57.6 423.2 45.3 431.7 46.5" fill="none" stroke="#dedede" stroke-width="0.55"/>
<polyline points="395.4 99.4 402.5 96.4 409.4 79.4 416.3 66.2 423.2 56.9 431.7 50" fill="none" stroke="#dedede" stroke-width="0.55"/>
<path d="M388.5 120C389.65 115.5 393.07 100.75 395.4 93C397.73 85.25 400.17 80.08 402.5 73.5C404.83 66.92 407.1 58.83 409.4 53.5C411.7 48.17 414 45 416.3 41.5C418.6 38 420.63 35.58 423.2 32.5C425.77 29.42 430.28 24.58 431.7 23" fill="none" stroke="#b2b2b2" stroke-width="0.9"/>
<path d="M388.5 125C389.65 120.67 393.07 106.5 395.4 99C397.73 91.5 400.17 86.17 402.5 80C404.83 73.83 407.1 67.17 409.4 62C411.7 56.83 414 53.08 416.3 49C418.6 44.92 420.63 40.58 423.2 37.5C425.77 34.42 430.28 31.67 431.7 30.5" fill="none" stroke="#b2b2b2" stroke-width="0.9"/>
</g>
<rect x="394.25" y="91.85" width="2.3" height="2.3" fill="#fff" stroke="#b8b8b8" stroke-width="0.5"/>
<rect x="401.35" y="72.35" width="2.3" height="2.3" fill="#fff" stroke="#b8b8b8" stroke-width="0.5"/>
<rect x="408.25" y="52.35" width="2.3" height="2.3" fill="#fff" stroke="#b8b8b8" stroke-width="0.5"/>
<rect x="415.15" y="40.35" width="2.3" height="2.3" fill="#fff" stroke="#b8b8b8" stroke-width="0.5"/>
<rect x="422.05" y="31.35" width="2.3" height="2.3" fill="#fff" stroke="#b8b8b8" stroke-width="0.5"/>
<rect x="430.55" y="21.85" width="2.3" height="2.3" fill="#fff" stroke="#b8b8b8" stroke-width="0.5"/>
<circle cx="395.4" cy="99" r="1.15" fill="#fff" stroke="#b8b8b8" stroke-width="0.5"/>
<circle cx="402.5" cy="80" r="1.15" fill="#fff" stroke="#b8b8b8" stroke-width="0.5"/>
<circle cx="409.4" cy="62" r="1.15" fill="#fff" stroke="#b8b8b8" stroke-width="0.5"/>
<circle cx="416.3" cy="49" r="1.15" fill="#fff" stroke="#b8b8b8" stroke-width="0.5"/>
<circle cx="423.2" cy="37.5" r="1.15" fill="#fff" stroke="#b8b8b8" stroke-width="0.5"/>
<circle cx="431.7" cy="30.5" r="1.15" fill="#fff" stroke="#b8b8b8" stroke-width="0.5"/>
<circle cx="395.4" cy="92.9" r="1.42" fill="#111"/>
<circle cx="395.4" cy="96.4" r="1.42" fill="#6e6e6e"/>
<circle cx="395.4" cy="99.4" r="1.42" fill="#6e6e6e"/>
<circle cx="395.4" cy="102.9" r="1.42" fill="#111"/>
<circle cx="402.5" cy="73.9" r="1.42" fill="#111"/>
<circle cx="402.5" cy="81.3" r="1.42" fill="#6e6e6e"/>
<circle cx="402.5" cy="96.4" r="1.42" fill="#6e6e6e"/>
<circle cx="409.4" cy="53.4" r="1.42" fill="#111"/>
<circle cx="409.4" cy="62.7" r="1.42" fill="#111"/>
<circle cx="409.4" cy="71.5" r="1.42" fill="#6e6e6e"/>
<circle cx="409.4" cy="79.4" r="1.42" fill="#6e6e6e"/>
<circle cx="416.3" cy="41.4" r="1.42" fill="#111"/>
<circle cx="416.3" cy="53.4" r="1.42" fill="#111"/>
<circle cx="416.3" cy="57.6" r="1.42" fill="#6e6e6e"/>
<circle cx="416.3" cy="66.2" r="1.42" fill="#6e6e6e"/>
<circle cx="423.2" cy="32.6" r="1.42" fill="#111"/>
<circle cx="423.2" cy="41.4" r="1.42" fill="#111"/>
<circle cx="423.2" cy="45.3" r="1.42" fill="#6e6e6e"/>
<circle cx="423.2" cy="56.9" r="1.42" fill="#6e6e6e"/>
<circle cx="431.7" cy="29.8" r="1.42" fill="#111"/>
<circle cx="431.7" cy="36" r="1.42" fill="#111"/>
<circle cx="431.7" cy="46.5" r="1.42" fill="#6e6e6e"/>
<circle cx="431.7" cy="50" r="1.42" fill="#6e6e6e"/>
<text x="447.12" y="9.1" font-size="11.6" font-weight="bold" fill="#000" stroke="#000" stroke-width="0.2">F</text>
<path d="M459.3 15.6V103.8" fill="none" stroke="#b4b4b4" stroke-width="1"/>
<path d="M458.8 103.8H517.8" fill="none" stroke="#9a9a9a" stroke-width="0.9"/>
<path d="M459.3 103.8h-1.9M459.3 74.4h-1.9M459.3 45h-1.9M459.3 15.6h-1.9" fill="none" stroke="#9a9a9a" stroke-width="0.8"/>
<path d="M459.3 94.95h-1.2M459.3 89.77h-1.2M459.3 86.1h-1.2M459.3 83.25h-1.2M459.3 80.92h-1.2M459.3 78.95h-1.2M459.3 77.25h-1.2M459.3 75.75h-1.2M459.3 65.55h-1.2M459.3 60.37h-1.2M459.3 56.7h-1.2M459.3 53.85h-1.2M459.3 51.52h-1.2M459.3 49.55h-1.2M459.3 47.85h-1.2M459.3 46.35h-1.2M459.3 36.15h-1.2M459.3 30.97h-1.2M459.3 27.3h-1.2M459.3 24.45h-1.2M459.3 22.12h-1.2M459.3 20.15h-1.2M459.3 18.45h-1.2M459.3 16.95h-1.2M466.3 103.8v1.6M473.2 103.8v1.6M480.1 103.8v1.6M487 103.8v1.6M493.9 103.8v1.6M500.8 103.8v1.6M507.7 103.8v1.6M514.6 103.8v1.6" fill="none" stroke="#9a9a9a" stroke-width="0.6"/>
<text x="0" y="0" font-size="5.8" text-anchor="end" fill="#222" stroke="#222" stroke-width="0.04" transform="translate(457.2 105.9) scale(0.95 1.13)">0.1</text>
<text x="0" y="0" font-size="5.8" text-anchor="end" fill="#222" stroke="#222" stroke-width="0.04" transform="translate(457.2 76.5) scale(0.95 1.13)">1</text>
<text x="0" y="0" font-size="5.8" text-anchor="end" fill="#222" stroke="#222" stroke-width="0.04" transform="translate(457.2 47.1) scale(0.95 1.13)">10</text>
<text x="0" y="0" font-size="5.8" text-anchor="end" fill="#222" stroke="#222" stroke-width="0.04" transform="translate(457.2 17.7) scale(0.95 1.13)">100</text>
<text x="0" y="0" font-size="4.8" text-anchor="end" fill="#000" stroke="#000" stroke-width="0.14" transform="translate(468.1 109.4) rotate(-45)">&lt;15</text>
<text x="0" y="0" font-size="4.8" text-anchor="end" fill="#000" stroke="#000" stroke-width="0.14" transform="translate(475 109.4) rotate(-45)">15-24</text>
<text x="0" y="0" font-size="4.8" text-anchor="end" fill="#000" stroke="#000" stroke-width="0.14" transform="translate(481.9 109.4) rotate(-45)">25-34</text>
<text x="0" y="0" font-size="4.8" text-anchor="end" fill="#000" stroke="#000" stroke-width="0.14" transform="translate(488.8 109.4) rotate(-45)">35-44</text>
<text x="0" y="0" font-size="4.8" text-anchor="end" fill="#000" stroke="#000" stroke-width="0.14" transform="translate(495.7 109.4) rotate(-45)">45-54</text>
<text x="0" y="0" font-size="4.8" text-anchor="end" fill="#000" stroke="#000" stroke-width="0.14" transform="translate(502.6 109.4) rotate(-45)">55-64</text>
<text x="0" y="0" font-size="4.8" text-anchor="end" fill="#000" stroke="#000" stroke-width="0.14" transform="translate(509.5 109.4) rotate(-45)">65-74</text>
<text x="0" y="0" font-size="4.8" text-anchor="end" fill="#000" stroke="#000" stroke-width="0.14" transform="translate(516.4 109.4) rotate(-45)">&gt;75</text>
<text x="0" y="0" font-size="6.1" fill="#111" stroke="#111" stroke-width="0.03" transform="translate(464.3 20.4) scale(1 1.12)">Mantle cell</text>
<text x="0" y="0" font-size="6.1" fill="#111" stroke="#111" stroke-width="0.03" transform="translate(464.3 27.7) scale(1 1.12)">lymphoma</text>
<clipPath id="c6"><rect x="459.3" y="9.6" width="62.5" height="94.2"/></clipPath>
<g clip-path="url(#c6)">
<polyline points="487.5 96.9 494.4 94.2 501.3 72.1 508.2 64.9 516.7 64.9" fill="none" stroke="#cfcfcf" stroke-width="0.55"/>
<polyline points="487.5 96.9 494.4 94.2 501.3 83.4 508.2 67.2 516.7 68.7" fill="none" stroke="#cfcfcf" stroke-width="0.55"/>
<polyline points="487.5 99.6 494.4 85.7 501.3 77.2 508.2 77.2 516.7 76.1" fill="none" stroke="#dedede" stroke-width="0.55"/>
<polyline points="487.5 99.6 494.4 87.3 501.3 91.6 508.2 79.2 516.7 77.7" fill="none" stroke="#dedede" stroke-width="0.55"/>
<path d="M480.4 130C481.58 125.5 485.17 111.92 487.5 103C489.83 94.08 492.1 82.47 494.4 76.5C496.7 70.53 499 70.3 501.3 67.2C503.6 64.1 505.63 60.1 508.2 57.9C510.77 55.7 515.28 54.65 516.7 54" fill="none" stroke="#b2b2b2" stroke-width="0.9"/>
<path d="M480.4 135C481.58 130.5 485.17 115.7 487.5 108C489.83 100.3 492.1 93.93 494.4 88.8C496.7 83.67 499 80.8 501.3 77.2C503.6 73.6 505.63 69.13 508.2 67.2C510.77 65.27 515.28 65.87 516.7 65.6" fill="none" stroke="#b2b2b2" stroke-width="0.9"/>
</g>
<rect x="486.35" y="101.85" width="2.3" height="2.3" fill="#fff" stroke="#b8b8b8" stroke-width="0.5"/>
<rect x="493.25" y="75.35" width="2.3" height="2.3" fill="#fff" stroke="#b8b8b8" stroke-width="0.5"/>
<rect x="500.15" y="66.05" width="2.3" height="2.3" fill="#fff" stroke="#b8b8b8" stroke-width="0.5"/>
<rect x="507.05" y="56.75" width="2.3" height="2.3" fill="#fff" stroke="#b8b8b8" stroke-width="0.5"/>
<rect x="515.55" y="52.85" width="2.3" height="2.3" fill="#fff" stroke="#b8b8b8" stroke-width="0.5"/>
<circle cx="494.4" cy="88.8" r="1.15" fill="#fff" stroke="#b8b8b8" stroke-width="0.5"/>
<circle cx="501.3" cy="77.2" r="1.15" fill="#fff" stroke="#b8b8b8" stroke-width="0.5"/>
<circle cx="508.2" cy="67.2" r="1.15" fill="#fff" stroke="#b8b8b8" stroke-width="0.5"/>
<circle cx="516.7" cy="65.6" r="1.15" fill="#fff" stroke="#b8b8b8" stroke-width="0.5"/>
<circle cx="487.5" cy="96.9" r="1.42" fill="#111"/>
<circle cx="487.5" cy="99.6" r="1.42" fill="#6e6e6e"/>
<circle cx="494.4" cy="85.7" r="1.42" fill="#6e6e6e"/>
<circle cx="494.4" cy="87.3" r="1.42" fill="#6e6e6e"/>
<circle cx="494.4" cy="94.2" r="1.42" fill="#111"/>
<circle cx="501.3" cy="72.1" r="1.42" fill="#111"/>
<circle cx="501.3" cy="77.2" r="1.42" fill="#6e6e6e"/>
<circle cx="501.3" cy="83.4" r="1.42" fill="#111"/>
<circle cx="501.3" cy="91.6" r="1.42" fill="#6e6e6e"/>
<circle cx="508.2" cy="64.9" r="1.42" fill="#111"/>
<circle cx="508.2" cy="67.2" r="1.42" fill="#111"/>
<circle cx="508.2" cy="77.2" r="1.42" fill="#6e6e6e"/>
<circle cx="508.2" cy="79.2" r="1.42" fill="#6e6e6e"/>
<circle cx="516.7" cy="64.9" r="1.42" fill="#111"/>
<circle cx="516.7" cy="68.7" r="1.42" fill="#111"/>
<circle cx="516.7" cy="76.1" r="1.42" fill="#6e6e6e"/>
<circle cx="516.7" cy="77.7" r="1.42" fill="#6e6e6e"/>
<text x="19.02" y="135.2" font-size="11.6" font-weight="bold" fill="#000" stroke="#000" stroke-width="0.2">G</text>
<path d="M30.9 143.2V231.4" fill="none" stroke="#b4b4b4" stroke-width="1"/>
<path d="M30.4 231.4H89.4" fill="none" stroke="#9a9a9a" stroke-width="0.9"/>
<path d="M30.9 231.4h-1.9M30.9 202h-1.9M30.9 172.6h-1.9M30.9 143.2h-1.9" fill="none" stroke="#9a9a9a" stroke-width="0.8"/>
<path d="M30.9 222.55h-1.2M30.9 217.37h-1.2M30.9 213.7h-1.2M30.9 210.85h-1.2M30.9 208.52h-1.2M30.9 206.55h-1.2M30.9 204.85h-1.2M30.9 203.35h-1.2M30.9 193.15h-1.2M30.9 187.97h-1.2M30.9 184.3h-1.2M30.9 181.45h-1.2M30.9 179.12h-1.2M30.9 177.15h-1.2M30.9 175.45h-1.2M30.9 173.95h-1.2M30.9 163.75h-1.2M30.9 158.57h-1.2M30.9 154.9h-1.2M30.9 152.05h-1.2M30.9 149.72h-1.2M30.9 147.75h-1.2M30.9 146.05h-1.2M30.9 144.55h-1.2M37.6 231.4v1.6M44.5 231.4v1.6M51.4 231.4v1.6M58.3 231.4v1.6M65.2 231.4v1.6M72.1 231.4v1.6M79 231.4v1.6M85.9 231.4v1.6" fill="none" stroke="#9a9a9a" stroke-width="0.6"/>
<text x="0" y="0" font-size="5.8" text-anchor="end" fill="#222" stroke="#222" stroke-width="0.04" transform="translate(28.8 233.5) scale(0.95 1.13)">0.1</text>
<text x="0" y="0" font-size="5.8" text-anchor="end" fill="#222" stroke="#222" stroke-width="0.04" transform="translate(28.8 204.1) scale(0.95 1.13)">1</text>
<text x="0" y="0" font-size="5.8" text-anchor="end" fill="#222" stroke="#222" stroke-width="0.04" transform="translate(28.8 174.7) scale(0.95 1.13)">10</text>
<text x="0" y="0" font-size="5.8" text-anchor="end" fill="#222" stroke="#222" stroke-width="0.04" transform="translate(28.8 145.3) scale(0.95 1.13)">100</text>
<text x="0" y="0" font-size="4.8" text-anchor="end" fill="#000" stroke="#000" stroke-width="0.14" transform="translate(39.4 237) rotate(-45)">&lt;15</text>
<text x="0" y="0" font-size="4.8" text-anchor="end" fill="#000" stroke="#000" stroke-width="0.14" transform="translate(46.3 237) rotate(-45)">15-24</text>
<text x="0" y="0" font-size="4.8" text-anchor="end" fill="#000" stroke="#000" stroke-width="0.14" transform="translate(53.2 237) rotate(-45)">25-34</text>
<text x="0" y="0" font-size="4.8" text-anchor="end" fill="#000" stroke="#000" stroke-width="0.14" transform="translate(60.1 237) rotate(-45)">35-44</text>
<text x="0" y="0" font-size="4.8" text-anchor="end" fill="#000" stroke="#000" stroke-width="0.14" transform="translate(67 237) rotate(-45)">45-54</text>
<text x="0" y="0" font-size="4.8" text-anchor="end" fill="#000" stroke="#000" stroke-width="0.14" transform="translate(73.9 237) rotate(-45)">55-64</text>
<text x="0" y="0" font-size="4.8" text-anchor="end" fill="#000" stroke="#000" stroke-width="0.14" transform="translate(80.8 237) rotate(-45)">65-74</text>
<text x="0" y="0" font-size="4.8" text-anchor="end" fill="#000" stroke="#000" stroke-width="0.14" transform="translate(87.7 237) rotate(-45)">&gt;75</text>
<text x="0" y="0" font-size="6.1" fill="#111" stroke="#111" stroke-width="0.03" transform="translate(34 147.6) scale(1 1.12)">Burkitt lymphoma/</text>
<text x="0" y="0" font-size="6.1" fill="#111" stroke="#111" stroke-width="0.03" transform="translate(34 154.9) scale(1 1.12)">leukemia</text>
<clipPath id="c7"><rect x="30.9" y="137.2" width="62.5" height="94.2"/></clipPath>
<g clip-path="url(#c7)">
<polyline points="36.4 221.9 44.8 227.9 51.7 209.7 58.8 211.2 65.7 205.5 72.6 218.8 79.5 202.9 88 213.8" fill="none" stroke="#cfcfcf" stroke-width="0.55"/>
<polyline points="36.4 221.9 44.8 227.9 51.7 230.3 58.8 229.1 65.7 205.5 72.6 226.7 79.5 213.2 88 228.7" fill="none" stroke="#cfcfcf" stroke-width="0.55"/>
<polyline points="36.4 211.7 44.8 220 51.7 225.8 58.8 218.8 65.7 214.8 72.6 214.4 79.5 204.5 88 201" fill="none" stroke="#dedede" stroke-width="0.55"/>
<polyline points="36.4 211.7 44.8 220 51.7 225.8 58.8 218.8 65.7 228.4 72.6 228.4 79.5 209.1 88 204.3" fill="none" stroke="#dedede" stroke-width="0.55"/>
<path d="M36.4 212.5C37.8 213.25 42.25 217.37 44.8 217C47.35 216.63 49.37 211.92 51.7 210.3C54.03 208.68 56.47 207.4 58.8 207.3C61.13 207.2 63.4 209.3 65.7 209.7C68 210.1 70.3 209.9 72.6 209.7C74.9 209.5 76.93 209.4 79.5 208.5C82.07 207.6 86.58 205 88 204.3" fill="none" stroke="#b2b2b2" stroke-width="0.9"/>
<path d="M36.4 227C37.8 227.67 42.25 230.33 44.8 231C47.35 231.67 49.37 231 51.7 231C54.03 231 56.47 231 58.8 231C61.13 231 63.4 231.83 65.7 231C68 230.17 70.3 228.67 72.6 226C74.9 223.33 76.93 217.5 79.5 215C82.07 212.5 86.58 211.67 88 211" fill="none" stroke="#b2b2b2" stroke-width="0.9"/>
</g>
<rect x="35.25" y="211.35" width="2.3" height="2.3" fill="#fff" stroke="#b8b8b8" stroke-width="0.5"/>
<rect x="43.65" y="215.85" width="2.3" height="2.3" fill="#fff" stroke="#b8b8b8" stroke-width="0.5"/>
<rect x="50.55" y="209.15" width="2.3" height="2.3" fill="#fff" stroke="#b8b8b8" stroke-width="0.5"/>
<rect x="57.65" y="206.15" width="2.3" height="2.3" fill="#fff" stroke="#b8b8b8" stroke-width="0.5"/>
<rect x="64.55" y="208.55" width="2.3" height="2.3" fill="#fff" stroke="#b8b8b8" stroke-width="0.5"/>
<rect x="71.45" y="208.55" width="2.3" height="2.3" fill="#fff" stroke="#b8b8b8" stroke-width="0.5"/>
<rect x="78.35" y="207.35" width="2.3" height="2.3" fill="#fff" stroke="#b8b8b8" stroke-width="0.5"/>
<rect x="86.85" y="203.15" width="2.3" height="2.3" fill="#fff" stroke="#b8b8b8" stroke-width="0.5"/>
<circle cx="36.4" cy="227" r="1.15" fill="#fff" stroke="#b8b8b8" stroke-width="0.5"/>
<circle cx="72.6" cy="226" r="1.15" fill="#fff" stroke="#b8b8b8" stroke-width="0.5"/>
<circle cx="79.5" cy="215" r="1.15" fill="#fff" stroke="#b8b8b8" stroke-width="0.5"/>
<circle cx="88" cy="211" r="1.15" fill="#fff" stroke="#b8b8b8" stroke-width="0.5"/>
<circle cx="36.4" cy="211.7" r="1.42" fill="#6e6e6e"/>
<circle cx="36.4" cy="221.9" r="1.42" fill="#111"/>
<circle cx="44.8" cy="220" r="1.42" fill="#6e6e6e"/>
<circle cx="44.8" cy="227.9" r="1.42" fill="#111"/>
<circle cx="51.7" cy="209.7" r="1.42" fill="#111"/>
<circle cx="51.7" cy="225.8" r="1.42" fill="#6e6e6e"/>
<circle cx="51.7" cy="230.3" r="1.42" fill="#111"/>
<circle cx="58.8" cy="211.2" r="1.42" fill="#111"/>
<circle cx="58.8" cy="218.8" r="1.42" fill="#6e6e6e"/>
<circle cx="58.8" cy="229.1" r="1.42" fill="#111"/>
<circle cx="65.7" cy="205.5" r="1.42" fill="#111"/>
<circle cx="65.7" cy="214.8" r="1.42" fill="#6e6e6e"/>
<circle cx="65.7" cy="228.4" r="1.42" fill="#6e6e6e"/>
<circle cx="72.6" cy="214.4" r="1.42" fill="#6e6e6e"/>
<circle cx="72.6" cy="218.8" r="1.42" fill="#111"/>
<circle cx="72.6" cy="226.7" r="1.42" fill="#111"/>
<circle cx="72.6" cy="228.4" r="1.42" fill="#6e6e6e"/>
<circle cx="79.5" cy="202.9" r="1.42" fill="#111"/>
<circle cx="79.5" cy="204.5" r="1.42" fill="#6e6e6e"/>
<circle cx="79.5" cy="209.1" r="1.42" fill="#6e6e6e"/>
<circle cx="79.5" cy="213.2" r="1.42" fill="#111"/>
<circle cx="88" cy="201" r="1.42" fill="#6e6e6e"/>
<circle cx="88" cy="204.3" r="1.42" fill="#6e6e6e"/>
<circle cx="88" cy="213.8" r="1.42" fill="#111"/>
<circle cx="88" cy="228.7" r="1.42" fill="#111"/>
<text x="104.12" y="135.2" font-size="11.6" font-weight="bold" fill="#000" stroke="#000" stroke-width="0.2">H</text>
<path d="M116.3 143.2V231.4" fill="none" stroke="#b4b4b4" stroke-width="1"/>
<path d="M115.8 231.4H174.8" fill="none" stroke="#9a9a9a" stroke-width="0.9"/>
<path d="M116.3 231.4h-1.9M116.3 202h-1.9M116.3 172.6h-1.9M116.3 143.2h-1.9" fill="none" stroke="#9a9a9a" stroke-width="0.8"/>
<path d="M116.3 222.55h-1.2M116.3 217.37h-1.2M116.3 213.7h-1.2M116.3 210.85h-1.2M116.3 208.52h-1.2M116.3 206.55h-1.2M116.3 204.85h-1.2M116.3 203.35h-1.2M116.3 193.15h-1.2M116.3 187.97h-1.2M116.3 184.3h-1.2M116.3 181.45h-1.2M116.3 179.12h-1.2M116.3 177.15h-1.2M116.3 175.45h-1.2M116.3 173.95h-1.2M116.3 163.75h-1.2M116.3 158.57h-1.2M116.3 154.9h-1.2M116.3 152.05h-1.2M116.3 149.72h-1.2M116.3 147.75h-1.2M116.3 146.05h-1.2M116.3 144.55h-1.2M122.7 231.4v1.6M129.6 231.4v1.6M136.5 231.4v1.6M143.4 231.4v1.6M150.3 231.4v1.6M157.2 231.4v1.6M164.1 231.4v1.6M171 231.4v1.6" fill="none" stroke="#9a9a9a" stroke-width="0.6"/>
<text x="0" y="0" font-size="5.8" text-anchor="end" fill="#222" stroke="#222" stroke-width="0.04" transform="translate(114.2 233.5) scale(0.95 1.13)">0.1</text>
<text x="0" y="0" font-size="5.8" text-anchor="end" fill="#222" stroke="#222" stroke-width="0.04" transform="translate(114.2 204.1) scale(0.95 1.13)">1</text>
<text x="0" y="0" font-size="5.8" text-anchor="end" fill="#222" stroke="#222" stroke-width="0.04" transform="translate(114.2 174.7) scale(0.95 1.13)">10</text>
<text x="0" y="0" font-size="5.8" text-anchor="end" fill="#222" stroke="#222" stroke-width="0.04" transform="translate(114.2 145.3) scale(0.95 1.13)">100</text>
<text x="0" y="0" font-size="4.8" text-anchor="end" fill="#000" stroke="#000" stroke-width="0.14" transform="translate(124.5 237) rotate(-45)">&lt;15</text>
<text x="0" y="0" font-size="4.8" text-anchor="end" fill="#000" stroke="#000" stroke-width="0.14" transform="translate(131.4 237) rotate(-45)">15-24</text>
<text x="0" y="0" font-size="4.8" text-anchor="end" fill="#000" stroke="#000" stroke-width="0.14" transform="translate(138.3 237) rotate(-45)">25-34</text>
<text x="0" y="0" font-size="4.8" text-anchor="end" fill="#000" stroke="#000" stroke-width="0.14" transform="translate(145.2 237) rotate(-45)">35-44</text>
<text x="0" y="0" font-size="4.8" text-anchor="end" fill="#000" stroke="#000" stroke-width="0.14" transform="translate(152.1 237) rotate(-45)">45-54</text>
<text x="0" y="0" font-size="4.8" text-anchor="end" fill="#000" stroke="#000" stroke-width="0.14" transform="translate(159 237) rotate(-45)">55-64</text>
<text x="0" y="0" font-size="4.8" text-anchor="end" fill="#000" stroke="#000" stroke-width="0.14" transform="translate(165.9 237) rotate(-45)">65-74</text>
<text x="0" y="0" font-size="4.8" text-anchor="end" fill="#000" stroke="#000" stroke-width="0.14" transform="translate(172.8 237) rotate(-45)">&gt;75</text>
<text x="0" y="0" font-size="6.1" fill="#111" stroke="#111" stroke-width="0.03" transform="translate(119.8 147.3) scale(1 1.12)">Plasma cell</text>
<text x="0" y="0" font-size="6.1" fill="#111" stroke="#111" stroke-width="0.03" transform="translate(119.8 154.6) scale(1 1.12)">neoplasms</text>
<clipPath id="c8"><rect x="116.3" y="137.2" width="62.5" height="94.2"/></clipPath>
<g clip-path="url(#c8)">
<polyline points="129.9 230.7 136.8 214.4 143.9 191.2 150.8 171.5 157.7 158 164.6 149.3 173.1 145.8" fill="none" stroke="#cfcfcf" stroke-width="0.55"/>
<polyline points="129.9 230.7 136.8 219.8 143.9 193.8 150.8 173 157.7 162.2 164.6 153.1 173.1 149.3" fill="none" stroke="#cfcfcf" stroke-width="0.55"/>
<polyline points="136.8 223.7 143.9 203.7 150.8 187.6 157.7 175.4 164.6 164.5 173.1 159.1" fill="none" stroke="#dedede" stroke-width="0.55"/>
<polyline points="136.8 223.7 143.9 212.7 150.8 191.4 157.7 180 164.6 169.6 173.1 164.2" fill="none" stroke="#dedede" stroke-width="0.55"/>
<path d="M129.9 236C131.05 232.83 134.47 223 136.8 217C139.13 211 141.57 205.42 143.9 200C146.23 194.58 148.5 189.42 150.8 184.5C153.1 179.58 155.4 174.83 157.7 170.5C160 166.17 162.03 161.42 164.6 158.5C167.17 155.58 171.68 153.92 173.1 153" fill="none" stroke="#b2b2b2" stroke-width="0.9"/>
<path d="M129.9 243C131.05 239.83 134.47 230.17 136.8 224C139.13 217.83 141.57 211.83 143.9 206C146.23 200.17 148.5 194.33 150.8 189C153.1 183.67 155.4 178.5 157.7 174C160 169.5 162.03 164.83 164.6 162C167.17 159.17 171.68 157.83 173.1 157" fill="none" stroke="#b2b2b2" stroke-width="0.9"/>
</g>
<rect x="135.65" y="215.85" width="2.3" height="2.3" fill="#fff" stroke="#b8b8b8" stroke-width="0.5"/>
<rect x="142.75" y="198.85" width="2.3" height="2.3" fill="#fff" stroke="#b8b8b8" stroke-width="0.5"/>
<rect x="149.65" y="183.35" width="2.3" height="2.3" fill="#fff" stroke="#b8b8b8" stroke-width="0.5"/>
<rect x="156.55" y="169.35" width="2.3" height="2.3" fill="#fff" stroke="#b8b8b8" stroke-width="0.5"/>
<rect x="163.45" y="157.35" width="2.3" height="2.3" fill="#fff" stroke="#b8b8b8" stroke-width="0.5"/>
<rect x="171.95" y="151.85" width="2.3" height="2.3" fill="#fff" stroke="#b8b8b8" stroke-width="0.5"/>
<circle cx="136.8" cy="224" r="1.15" fill="#fff" stroke="#b8b8b8" stroke-width="0.5"/>
<circle cx="143.9" cy="206" r="1.15" fill="#fff" stroke="#b8b8b8" stroke-width="0.5"/>
<circle cx="150.8" cy="189" r="1.15" fill="#fff" stroke="#b8b8b8" stroke-width="0.5"/>
<circle cx="157.7" cy="174" r="1.15" fill="#fff" stroke="#b8b8b8" stroke-width="0.5"/>
<circle cx="164.6" cy="162" r="1.15" fill="#fff" stroke="#b8b8b8" stroke-width="0.5"/>
<circle cx="173.1" cy="157" r="1.15" fill="#fff" stroke="#b8b8b8" stroke-width="0.5"/>
<circle cx="129.9" cy="230.7" r="1.42" fill="#111"/>
<circle cx="136.8" cy="214.4" r="1.42" fill="#111"/>
<circle cx="136.8" cy="219.8" r="1.42" fill="#111"/>
<circle cx="136.8" cy="223.7" r="1.42" fill="#6e6e6e"/>
<circle cx="143.9" cy="191.2" r="1.42" fill="#111"/>
<circle cx="143.9" cy="193.8" r="1.42" fill="#111"/>
<circle cx="143.9" cy="203.7" r="1.42" fill="#6e6e6e"/>
<circle cx="143.9" cy="212.7" r="1.42" fill="#6e6e6e"/>
<circle cx="150.8" cy="171.5" r="1.42" fill="#111"/>
<circle cx="150.8" cy="173" r="1.42" fill="#111"/>
<circle cx="150.8" cy="187.6" r="1.42" fill="#6e6e6e"/>
<circle cx="150.8" cy="191.4" r="1.42" fill="#6e6e6e"/>
<circle cx="157.7" cy="158" r="1.42" fill="#111"/>
<circle cx="157.7" cy="162.2" r="1.42" fill="#111"/>
<circle cx="157.7" cy="175.4" r="1.42" fill="#6e6e6e"/>
<circle cx="157.7" cy="180" r="1.42" fill="#6e6e6e"/>
<circle cx="164.6" cy="149.3" r="1.42" fill="#111"/>
<circle cx="164.6" cy="153.1" r="1.42" fill="#111"/>
<circle cx="164.6" cy="164.5" r="1.42" fill="#6e6e6e"/>
<circle cx="164.6" cy="169.6" r="1.42" fill="#6e6e6e"/>
<circle cx="173.1" cy="145.8" r="1.42" fill="#111"/>
<circle cx="173.1" cy="149.3" r="1.42" fill="#111"/>
<circle cx="173.1" cy="159.1" r="1.42" fill="#6e6e6e"/>
<circle cx="173.1" cy="164.2" r="1.42" fill="#6e6e6e"/>
<text x="189.22" y="135.2" font-size="11.6" font-weight="bold" fill="#000" stroke="#000" stroke-width="0.2">I</text>
<path d="M201.4 143.2V231.4" fill="none" stroke="#b4b4b4" stroke-width="1"/>
<path d="M200.9 231.4H259.9" fill="none" stroke="#9a9a9a" stroke-width="0.9"/>
<path d="M201.4 231.4h-1.9M201.4 202h-1.9M201.4 172.6h-1.9M201.4 143.2h-1.9" fill="none" stroke="#9a9a9a" stroke-width="0.8"/>
<path d="M201.4 222.55h-1.2M201.4 217.37h-1.2M201.4 213.7h-1.2M201.4 210.85h-1.2M201.4 208.52h-1.2M201.4 206.55h-1.2M201.4 204.85h-1.2M201.4 203.35h-1.2M201.4 193.15h-1.2M201.4 187.97h-1.2M201.4 184.3h-1.2M201.4 181.45h-1.2M201.4 179.12h-1.2M201.4 177.15h-1.2M201.4 175.45h-1.2M201.4 173.95h-1.2M201.4 163.75h-1.2M201.4 158.57h-1.2M201.4 154.9h-1.2M201.4 152.05h-1.2M201.4 149.72h-1.2M201.4 147.75h-1.2M201.4 146.05h-1.2M201.4 144.55h-1.2M208.4 231.4v1.6M215.3 231.4v1.6M222.2 231.4v1.6M229.1 231.4v1.6M236 231.4v1.6M242.9 231.4v1.6M249.8 231.4v1.6M256.7 231.4v1.6" fill="none" stroke="#9a9a9a" stroke-width="0.6"/>
<text x="0" y="0" font-size="5.8" text-anchor="end" fill="#222" stroke="#222" stroke-width="0.04" transform="translate(199.3 233.5) scale(0.95 1.13)">0.1</text>
<text x="0" y="0" font-size="5.8" text-anchor="end" fill="#222" stroke="#222" stroke-width="0.04" transform="translate(199.3 204.1) scale(0.95 1.13)">1</text>
<text x="0" y="0" font-size="5.8" text-anchor="end" fill="#222" stroke="#222" stroke-width="0.04" transform="translate(199.3 174.7) scale(0.95 1.13)">10</text>
<text x="0" y="0" font-size="5.8" text-anchor="end" fill="#222" stroke="#222" stroke-width="0.04" transform="translate(199.3 145.3) scale(0.95 1.13)">100</text>
<text x="0" y="0" font-size="4.8" text-anchor="end" fill="#000" stroke="#000" stroke-width="0.14" transform="translate(210.2 237) rotate(-45)">&lt;15</text>
<text x="0" y="0" font-size="4.8" text-anchor="end" fill="#000" stroke="#000" stroke-width="0.14" transform="translate(217.1 237) rotate(-45)">15-24</text>
<text x="0" y="0" font-size="4.8" text-anchor="end" fill="#000" stroke="#000" stroke-width="0.14" transform="translate(224 237) rotate(-45)">25-34</text>
<text x="0" y="0" font-size="4.8" text-anchor="end" fill="#000" stroke="#000" stroke-width="0.14" transform="translate(230.9 237) rotate(-45)">35-44</text>
<text x="0" y="0" font-size="4.8" text-anchor="end" fill="#000" stroke="#000" stroke-width="0.14" transform="translate(237.8 237) rotate(-45)">45-54</text>
<text x="0" y="0" font-size="4.8" text-anchor="end" fill="#000" stroke="#000" stroke-width="0.14" transform="translate(244.7 237) rotate(-45)">55-64</text>
<text x="0" y="0" font-size="4.8" text-anchor="end" fill="#000" stroke="#000" stroke-width="0.14" transform="translate(251.6 237) rotate(-45)">65-74</text>
<text x="0" y="0" font-size="4.8" text-anchor="end" fill="#000" stroke="#000" stroke-width="0.14" transform="translate(258.5 237) rotate(-45)">&gt;75</text>
<text x="0" y="0" font-size="6.1" fill="#111" stroke="#111" stroke-width="0.03" transform="translate(205.2 146.6) scale(1 1.12)">Mycosis fungoides/</text>
<text x="0" y="0" font-size="6.1" fill="#111" stroke="#111" stroke-width="0.03" transform="translate(206.7 153.9) scale(1 1.12)">Sézary syndrome</text>
<clipPath id="c9"><rect x="201.4" y="137.2" width="62.5" height="94.2"/></clipPath>
<g clip-path="url(#c9)">
<polyline points="215.6 223.3 222.5 223.3 229.6 203 236.5 195.3 243.4 192.1 250.3 195.9 258.8 192.5" fill="none" stroke="#cfcfcf" stroke-width="0.55"/>
<polyline points="215.6 227.9 222.5 223.3 229.6 203 236.5 201 243.4 192.8 250.3 195.9 258.8 193.5" fill="none" stroke="#cfcfcf" stroke-width="0.55"/>
<polyline points="222.5 229.9 229.6 218.6 236.5 215.5 243.4 206.7 250.3 191.1 258.8 188.5" fill="none" stroke="#dedede" stroke-width="0.55"/>
<polyline points="222.5 229.9 229.6 220.4 236.5 223.7 243.4 212.3 250.3 209.5 258.8 200.6" fill="none" stroke="#dedede" stroke-width="0.55"/>
<polyline points="222.5 229.9 229.6 221.8 236.5 223.7 243.4 212.3 250.3 209.5 258.8 200.6" fill="none" stroke="#dedede" stroke-width="0.55"/>
<path d="M215.6 245C216.75 242.5 220.17 235.03 222.5 230C224.83 224.97 227.27 218.77 229.6 214.8C231.93 210.83 234.2 208.93 236.5 206.2C238.8 203.47 241.1 200.92 243.4 198.4C245.7 195.88 247.73 192.87 250.3 191.1C252.87 189.33 257.38 188.35 258.8 187.8" fill="none" stroke="#b2b2b2" stroke-width="0.9"/>
<path d="M222.5 236C223.68 233.67 227.27 225.9 229.6 222C231.93 218.1 234.2 215.93 236.5 212.6C238.8 209.27 241.1 204.25 243.4 202C245.7 199.75 247.73 199.45 250.3 199.1C252.87 198.75 257.38 199.77 258.8 199.9" fill="none" stroke="#b2b2b2" stroke-width="0.9"/>
</g>
<rect x="221.35" y="228.85" width="2.3" height="2.3" fill="#fff" stroke="#b8b8b8" stroke-width="0.5"/>
<rect x="228.45" y="213.65" width="2.3" height="2.3" fill="#fff" stroke="#b8b8b8" stroke-width="0.5"/>
<rect x="235.35" y="205.05" width="2.3" height="2.3" fill="#fff" stroke="#b8b8b8" stroke-width="0.5"/>
<rect x="242.25" y="197.25" width="2.3" height="2.3" fill="#fff" stroke="#b8b8b8" stroke-width="0.5"/>
<rect x="249.15" y="189.95" width="2.3" height="2.3" fill="#fff" stroke="#b8b8b8" stroke-width="0.5"/>
<rect x="257.65" y="186.65" width="2.3" height="2.3" fill="#fff" stroke="#b8b8b8" stroke-width="0.5"/>
<circle cx="229.6" cy="222" r="1.15" fill="#fff" stroke="#b8b8b8" stroke-width="0.5"/>
<circle cx="236.5" cy="212.6" r="1.15" fill="#fff" stroke="#b8b8b8" stroke-width="0.5"/>
<circle cx="243.4" cy="202" r="1.15" fill="#fff" stroke="#b8b8b8" stroke-width="0.5"/>
<circle cx="250.3" cy="199.1" r="1.15" fill="#fff" stroke="#b8b8b8" stroke-width="0.5"/>
<circle cx="258.8" cy="199.9" r="1.15" fill="#fff" stroke="#b8b8b8" stroke-width="0.5"/>
<circle cx="215.6" cy="223.3" r="1.42" fill="#111"/>
<circle cx="215.6" cy="227.9" r="1.42" fill="#111"/>
<circle cx="222.5" cy="223.3" r="1.42" fill="#111"/>
<circle cx="222.5" cy="229.9" r="1.42" fill="#6e6e6e"/>
<circle cx="229.6" cy="203" r="1.42" fill="#111"/>
<circle cx="229.6" cy="218.6" r="1.42" fill="#6e6e6e"/>
<circle cx="229.6" cy="220.4" r="1.42" fill="#6e6e6e"/>
<circle cx="229.6" cy="221.8" r="1.42" fill="#6e6e6e"/>
<circle cx="236.5" cy="195.3" r="1.42" fill="#111"/>
<circle cx="236.5" cy="201" r="1.42" fill="#111"/>
<circle cx="236.5" cy="215.5" r="1.42" fill="#6e6e6e"/>
<circle cx="236.5" cy="223.7" r="1.42" fill="#6e6e6e"/>
<circle cx="243.4" cy="192.1" r="1.42" fill="#111"/>
<circle cx="243.4" cy="192.8" r="1.42" fill="#111"/>
<circle cx="243.4" cy="206.7" r="1.42" fill="#6e6e6e"/>
<circle cx="243.4" cy="212.3" r="1.42" fill="#6e6e6e"/>
<circle cx="250.3" cy="191.1" r="1.42" fill="#6e6e6e"/>
<circle cx="250.3" cy="195.9" r="1.42" fill="#111"/>
<circle cx="250.3" cy="209.5" r="1.42" fill="#6e6e6e"/>
<circle cx="258.8" cy="188.5" r="1.42" fill="#6e6e6e"/>
<circle cx="258.8" cy="192.5" r="1.42" fill="#111"/>
<circle cx="258.8" cy="193.5" r="1.42" fill="#111"/>
<circle cx="258.8" cy="200.6" r="1.42" fill="#6e6e6e"/>
<text x="274.83" y="135.2" font-size="11.6" font-weight="bold" fill="#000" stroke="#000" stroke-width="0.2">J</text>
<path d="M286.4 143.2V231.4" fill="none" stroke="#b4b4b4" stroke-width="1"/>
<path d="M285.9 231.4H344.9" fill="none" stroke="#9a9a9a" stroke-width="0.9"/>
<path d="M286.4 231.4h-1.9M286.4 202h-1.9M286.4 172.6h-1.9M286.4 143.2h-1.9" fill="none" stroke="#9a9a9a" stroke-width="0.8"/>
<path d="M286.4 222.55h-1.2M286.4 217.37h-1.2M286.4 213.7h-1.2M286.4 210.85h-1.2M286.4 208.52h-1.2M286.4 206.55h-1.2M286.4 204.85h-1.2M286.4 203.35h-1.2M286.4 193.15h-1.2M286.4 187.97h-1.2M286.4 184.3h-1.2M286.4 181.45h-1.2M286.4 179.12h-1.2M286.4 177.15h-1.2M286.4 175.45h-1.2M286.4 173.95h-1.2M286.4 163.75h-1.2M286.4 158.57h-1.2M286.4 154.9h-1.2M286.4 152.05h-1.2M286.4 149.72h-1.2M286.4 147.75h-1.2M286.4 146.05h-1.2M286.4 144.55h-1.2M293.4 231.4v1.6M300.3 231.4v1.6M307.2 231.4v1.6M314.1 231.4v1.6M321 231.4v1.6M327.9 231.4v1.6M334.8 231.4v1.6M341.7 231.4v1.6" fill="none" stroke="#9a9a9a" stroke-width="0.6"/>
<text x="0" y="0" font-size="5.8" text-anchor="end" fill="#222" stroke="#222" stroke-width="0.04" transform="translate(284.3 233.5) scale(0.95 1.13)">0.1</text>
<text x="0" y="0" font-size="5.8" text-anchor="end" fill="#222" stroke="#222" stroke-width="0.04" transform="translate(284.3 204.1) scale(0.95 1.13)">1</text>
<text x="0" y="0" font-size="5.8" text-anchor="end" fill="#222" stroke="#222" stroke-width="0.04" transform="translate(284.3 174.7) scale(0.95 1.13)">10</text>
<text x="0" y="0" font-size="5.8" text-anchor="end" fill="#222" stroke="#222" stroke-width="0.04" transform="translate(284.3 145.3) scale(0.95 1.13)">100</text>
<text x="0" y="0" font-size="4.8" text-anchor="end" fill="#000" stroke="#000" stroke-width="0.14" transform="translate(295.2 237) rotate(-45)">&lt;15</text>
<text x="0" y="0" font-size="4.8" text-anchor="end" fill="#000" stroke="#000" stroke-width="0.14" transform="translate(302.1 237) rotate(-45)">15-24</text>
<text x="0" y="0" font-size="4.8" text-anchor="end" fill="#000" stroke="#000" stroke-width="0.14" transform="translate(309 237) rotate(-45)">25-34</text>
<text x="0" y="0" font-size="4.8" text-anchor="end" fill="#000" stroke="#000" stroke-width="0.14" transform="translate(315.9 237) rotate(-45)">35-44</text>
<text x="0" y="0" font-size="4.8" text-anchor="end" fill="#000" stroke="#000" stroke-width="0.14" transform="translate(322.8 237) rotate(-45)">45-54</text>
<text x="0" y="0" font-size="4.8" text-anchor="end" fill="#000" stroke="#000" stroke-width="0.14" transform="translate(329.7 237) rotate(-45)">55-64</text>
<text x="0" y="0" font-size="4.8" text-anchor="end" fill="#000" stroke="#000" stroke-width="0.14" transform="translate(336.6 237) rotate(-45)">65-74</text>
<text x="0" y="0" font-size="4.8" text-anchor="end" fill="#000" stroke="#000" stroke-width="0.14" transform="translate(343.5 237) rotate(-45)">&gt;75</text>
<text x="0" y="0" font-size="6.1" fill="#111" stroke="#111" stroke-width="0.03" transform="translate(291 147.3) scale(1 1.12)">Peripheral T-cell</text>
<text x="0" y="0" font-size="6.1" fill="#111" stroke="#111" stroke-width="0.03" transform="translate(291 154.6) scale(1 1.12)">lymphoma</text>
<clipPath id="c10"><rect x="286.4" y="137.2" width="62.5" height="94.2"/></clipPath>
<g clip-path="url(#c10)">
<polyline points="300.6 217 307.5 214.9 314.6 202 321.5 195.9 328.4 193.5 335.3 191.2 343.8 193.2" fill="none" stroke="#cfcfcf" stroke-width="0.55"/>
<polyline points="300.6 217 307.5 226.3 314.6 208.2 321.5 205.9 328.4 201 335.3 195.9 343.8 193.2" fill="none" stroke="#cfcfcf" stroke-width="0.55"/>
<polyline points="300.6 217 307.5 226.3 314.6 208.2 321.5 205.9 328.4 202.5 335.3 195.9 343.8 193.2" fill="none" stroke="#cfcfcf" stroke-width="0.55"/>
<polyline points="300.6 224.8 307.5 218.6 314.6 220.1 321.5 204.1 328.4 196.6 335.3 187.1 343.8 182" fill="none" stroke="#dedede" stroke-width="0.55"/>
<polyline points="300.6 224.8 307.5 222.1 314.6 223.7 321.5 209.8 328.4 196.6 335.3 189.2 343.8 189.7" fill="none" stroke="#dedede" stroke-width="0.55"/>
<polyline points="300.6 224.8 307.5 222.1 314.6 223.7 321.5 209.8 328.4 196.6 335.3 189.2 343.8 190.5" fill="none" stroke="#dedede" stroke-width="0.55"/>
<path d="M292.2 228.5C293.6 227.92 298.05 226.58 300.6 225C303.15 223.42 305.17 221.42 307.5 219C309.83 216.58 312.27 213.07 314.6 210.5C316.93 207.93 319.2 205.65 321.5 203.6C323.8 201.55 326.1 200.38 328.4 198.2C330.7 196.02 332.73 192.43 335.3 190.5C337.87 188.57 342.38 187.25 343.8 186.6" fill="none" stroke="#b2b2b2" stroke-width="0.9"/>
<path d="M292.2 230.5C293.6 230.13 298.05 228.92 300.6 228.3C303.15 227.68 305.17 227.83 307.5 226.8C309.83 225.77 312.27 223.98 314.6 222.1C316.93 220.22 319.2 218.45 321.5 215.5C323.8 212.55 326.1 207.15 328.4 204.4C330.7 201.65 332.73 200.82 335.3 199C337.87 197.18 342.38 194.42 343.8 193.5" fill="none" stroke="#b2b2b2" stroke-width="0.9"/>
</g>
<rect x="291.05" y="227.35" width="2.3" height="2.3" fill="#fff" stroke="#b8b8b8" stroke-width="0.5"/>
<rect x="299.45" y="223.85" width="2.3" height="2.3" fill="#fff" stroke="#b8b8b8" stroke-width="0.5"/>
<rect x="306.35" y="217.85" width="2.3" height="2.3" fill="#fff" stroke="#b8b8b8" stroke-width="0.5"/>
<rect x="313.45" y="209.35" width="2.3" height="2.3" fill="#fff" stroke="#b8b8b8" stroke-width="0.5"/>
<rect x="320.35" y="202.45" width="2.3" height="2.3" fill="#fff" stroke="#b8b8b8" stroke-width="0.5"/>
<rect x="327.25" y="197.05" width="2.3" height="2.3" fill="#fff" stroke="#b8b8b8" stroke-width="0.5"/>
<rect x="334.15" y="189.35" width="2.3" height="2.3" fill="#fff" stroke="#b8b8b8" stroke-width="0.5"/>
<rect x="342.65" y="185.45" width="2.3" height="2.3" fill="#fff" stroke="#b8b8b8" stroke-width="0.5"/>
<circle cx="292.2" cy="230.5" r="1.15" fill="#fff" stroke="#b8b8b8" stroke-width="0.5"/>
<circle cx="300.6" cy="228.3" r="1.15" fill="#fff" stroke="#b8b8b8" stroke-width="0.5"/>
<circle cx="307.5" cy="226.8" r="1.15" fill="#fff" stroke="#b8b8b8" stroke-width="0.5"/>
<circle cx="314.6" cy="222.1" r="1.15" fill="#fff" stroke="#b8b8b8" stroke-width="0.5"/>
<circle cx="321.5" cy="215.5" r="1.15" fill="#fff" stroke="#b8b8b8" stroke-width="0.5"/>
<circle cx="328.4" cy="204.4" r="1.15" fill="#fff" stroke="#b8b8b8" stroke-width="0.5"/>
<circle cx="335.3" cy="199" r="1.15" fill="#fff" stroke="#b8b8b8" stroke-width="0.5"/>
<circle cx="343.8" cy="193.5" r="1.15" fill="#fff" stroke="#b8b8b8" stroke-width="0.5"/>
<circle cx="300.6" cy="217" r="1.42" fill="#111"/>
<circle cx="300.6" cy="224.8" r="1.42" fill="#6e6e6e"/>
<circle cx="307.5" cy="214.9" r="1.42" fill="#111"/>
<circle cx="307.5" cy="218.6" r="1.42" fill="#6e6e6e"/>
<circle cx="307.5" cy="222.1" r="1.42" fill="#6e6e6e"/>
<circle cx="307.5" cy="226.3" r="1.42" fill="#111"/>
<circle cx="314.6" cy="202" r="1.42" fill="#111"/>
<circle cx="314.6" cy="208.2" r="1.42" fill="#111"/>
<circle cx="314.6" cy="220.1" r="1.42" fill="#6e6e6e"/>
<circle cx="314.6" cy="223.7" r="1.42" fill="#6e6e6e"/>
<circle cx="321.5" cy="195.9" r="1.42" fill="#111"/>
<circle cx="321.5" cy="204.1" r="1.42" fill="#6e6e6e"/>
<circle cx="321.5" cy="205.9" r="1.42" fill="#111"/>
<circle cx="321.5" cy="209.8" r="1.42" fill="#6e6e6e"/>
<circle cx="328.4" cy="193.5" r="1.42" fill="#111"/>
<circle cx="328.4" cy="196.6" r="1.42" fill="#6e6e6e"/>
<circle cx="328.4" cy="201" r="1.42" fill="#111"/>
<circle cx="328.4" cy="202.5" r="1.42" fill="#111"/>
<circle cx="335.3" cy="187.1" r="1.42" fill="#6e6e6e"/>
<circle cx="335.3" cy="189.2" r="1.42" fill="#6e6e6e"/>
<circle cx="335.3" cy="191.2" r="1.42" fill="#111"/>
<circle cx="335.3" cy="195.9" r="1.42" fill="#111"/>
<circle cx="343.8" cy="182" r="1.42" fill="#6e6e6e"/>
<circle cx="343.8" cy="189.7" r="1.42" fill="#6e6e6e"/>
<circle cx="343.8" cy="190.5" r="1.42" fill="#6e6e6e"/>
<circle cx="343.8" cy="193.2" r="1.42" fill="#111"/>
<text x="362.12" y="135.2" font-size="11.6" font-weight="bold" fill="#000" stroke="#000" stroke-width="0.2">K</text>
<path d="M374.3 143.2V231.4" fill="none" stroke="#b4b4b4" stroke-width="1"/>
<path d="M373.8 231.4H432.8" fill="none" stroke="#9a9a9a" stroke-width="0.9"/>
<path d="M374.3 231.4h-1.9M374.3 202h-1.9M374.3 172.6h-1.9M374.3 143.2h-1.9" fill="none" stroke="#9a9a9a" stroke-width="0.8"/>
<path d="M374.3 222.55h-1.2M374.3 217.37h-1.2M374.3 213.7h-1.2M374.3 210.85h-1.2M374.3 208.52h-1.2M374.3 206.55h-1.2M374.3 204.85h-1.2M374.3 203.35h-1.2M374.3 193.15h-1.2M374.3 187.97h-1.2M374.3 184.3h-1.2M374.3 181.45h-1.2M374.3 179.12h-1.2M374.3 177.15h-1.2M374.3 175.45h-1.2M374.3 173.95h-1.2M374.3 163.75h-1.2M374.3 158.57h-1.2M374.3 154.9h-1.2M374.3 152.05h-1.2M374.3 149.72h-1.2M374.3 147.75h-1.2M374.3 146.05h-1.2M374.3 144.55h-1.2M381.3 231.4v1.6M388.2 231.4v1.6M395.1 231.4v1.6M402 231.4v1.6M408.9 231.4v1.6M415.8 231.4v1.6M422.7 231.4v1.6M429.6 231.4v1.6" fill="none" stroke="#9a9a9a" stroke-width="0.6"/>
<text x="0" y="0" font-size="5.8" text-anchor="end" fill="#222" stroke="#222" stroke-width="0.04" transform="translate(372.2 233.5) scale(0.95 1.13)">0.1</text>
<text x="0" y="0" font-size="5.8" text-anchor="end" fill="#222" stroke="#222" stroke-width="0.04" transform="translate(372.2 204.1) scale(0.95 1.13)">1</text>
<text x="0" y="0" font-size="5.8" text-anchor="end" fill="#222" stroke="#222" stroke-width="0.04" transform="translate(372.2 174.7) scale(0.95 1.13)">10</text>
<text x="0" y="0" font-size="5.8" text-anchor="end" fill="#222" stroke="#222" stroke-width="0.04" transform="translate(372.2 145.3) scale(0.95 1.13)">100</text>
<text x="0" y="0" font-size="4.8" text-anchor="end" fill="#000" stroke="#000" stroke-width="0.14" transform="translate(383.1 237) rotate(-45)">&lt;15</text>
<text x="0" y="0" font-size="4.8" text-anchor="end" fill="#000" stroke="#000" stroke-width="0.14" transform="translate(390 237) rotate(-45)">15-24</text>
<text x="0" y="0" font-size="4.8" text-anchor="end" fill="#000" stroke="#000" stroke-width="0.14" transform="translate(396.9 237) rotate(-45)">25-34</text>
<text x="0" y="0" font-size="4.8" text-anchor="end" fill="#000" stroke="#000" stroke-width="0.14" transform="translate(403.8 237) rotate(-45)">35-44</text>
<text x="0" y="0" font-size="4.8" text-anchor="end" fill="#000" stroke="#000" stroke-width="0.14" transform="translate(410.7 237) rotate(-45)">45-54</text>
<text x="0" y="0" font-size="4.8" text-anchor="end" fill="#000" stroke="#000" stroke-width="0.14" transform="translate(417.6 237) rotate(-45)">55-64</text>
<text x="0" y="0" font-size="4.8" text-anchor="end" fill="#000" stroke="#000" stroke-width="0.14" transform="translate(424.5 237) rotate(-45)">65-74</text>
<text x="0" y="0" font-size="4.8" text-anchor="end" fill="#000" stroke="#000" stroke-width="0.14" transform="translate(431.4 237) rotate(-45)">&gt;75</text>
<text x="0" y="0" font-size="6.1" fill="#111" stroke="#111" stroke-width="0.03" transform="translate(378.2 147) scale(1 1.12)">B-cell lymphoblastic</text>
<text x="0" y="0" font-size="6.1" fill="#111" stroke="#111" stroke-width="0.03" transform="translate(378.2 154.3) scale(1 1.12)">leukemia/lymphoma</text>
<clipPath id="c11"><rect x="374.3" y="137.2" width="62.5" height="94.2"/></clipPath>
<g clip-path="url(#c11)">
<polyline points="380.1 202 388.5 216.2 395.4 223.3" fill="none" stroke="#cfcfcf" stroke-width="0.55"/>
<polyline points="409.4 221.4 416.3 221.8 423.2 209.8 431.7 214" fill="none" stroke="#cfcfcf" stroke-width="0.55"/>
<polyline points="380.1 207.2 388.5 230.8 395.4 225.7" fill="none" stroke="#cfcfcf" stroke-width="0.55"/>
<polyline points="409.4 221.4 416.3 224.7 423.2 209.8 431.7 220" fill="none" stroke="#cfcfcf" stroke-width="0.55"/>
<polyline points="380.1 192.5 388.5 209.8 395.4 218 402.5 219 409.4 210.9 416.3 210.9 423.2 211.2 431.7 208.1" fill="none" stroke="#dedede" stroke-width="0.55"/>
<polyline points="380.1 193.5 388.5 212.9 395.4 218 402.5 221.1 409.4 213.8 416.3 212.3 423.2 216.2 431.7 209.8" fill="none" stroke="#dedede" stroke-width="0.55"/>
<polyline points="380.1 193.5 388.5 212.9 395.4 218 402.5 222.6 409.4 213.8 416.3 212.3 423.2 216.2 431.7 209.8" fill="none" stroke="#dedede" stroke-width="0.55"/>
<path d="M380.1 190.6C381.5 192.62 385.95 198.83 388.5 202.7C391.05 206.57 393.07 211.78 395.4 213.8C397.73 215.82 400.17 215.05 402.5 214.8C404.83 214.55 407.1 213.25 409.4 212.3C411.7 211.35 414 210.28 416.3 209.1C418.6 207.92 420.63 205.85 423.2 205.2C425.77 204.55 430.28 205.2 431.7 205.2" fill="none" stroke="#b2b2b2" stroke-width="0.9"/>
<path d="M380.1 193.5C381.5 196.22 385.95 205.67 388.5 209.8C391.05 213.93 393.07 216.88 395.4 218.3C397.73 219.72 400.17 218.88 402.5 218.3C404.83 217.72 407.1 215.93 409.4 214.8C411.7 213.67 414 212.33 416.3 211.5C418.6 210.67 420.63 210.2 423.2 209.8C425.77 209.4 430.28 209.22 431.7 209.1" fill="none" stroke="#b2b2b2" stroke-width="0.9"/>
</g>
<rect x="378.95" y="189.45" width="2.3" height="2.3" fill="#fff" stroke="#b8b8b8" stroke-width="0.5"/>
<rect x="387.35" y="201.55" width="2.3" height="2.3" fill="#fff" stroke="#b8b8b8" stroke-width="0.5"/>
<rect x="394.25" y="212.65" width="2.3" height="2.3" fill="#fff" stroke="#b8b8b8" stroke-width="0.5"/>
<rect x="401.35" y="213.65" width="2.3" height="2.3" fill="#fff" stroke="#b8b8b8" stroke-width="0.5"/>
<rect x="408.25" y="211.15" width="2.3" height="2.3" fill="#fff" stroke="#b8b8b8" stroke-width="0.5"/>
<rect x="415.15" y="207.95" width="2.3" height="2.3" fill="#fff" stroke="#b8b8b8" stroke-width="0.5"/>
<rect x="422.05" y="204.05" width="2.3" height="2.3" fill="#fff" stroke="#b8b8b8" stroke-width="0.5"/>
<rect x="430.55" y="204.05" width="2.3" height="2.3" fill="#fff" stroke="#b8b8b8" stroke-width="0.5"/>
<circle cx="380.1" cy="193.5" r="1.15" fill="#fff" stroke="#b8b8b8" stroke-width="0.5"/>
<circle cx="388.5" cy="209.8" r="1.15" fill="#fff" stroke="#b8b8b8" stroke-width="0.5"/>
<circle cx="395.4" cy="218.3" r="1.15" fill="#fff" stroke="#b8b8b8" stroke-width="0.5"/>
<circle cx="402.5" cy="218.3" r="1.15" fill="#fff" stroke="#b8b8b8" stroke-width="0.5"/>
<circle cx="409.4" cy="214.8" r="1.15" fill="#fff" stroke="#b8b8b8" stroke-width="0.5"/>
<circle cx="416.3" cy="211.5" r="1.15" fill="#fff" stroke="#b8b8b8" stroke-width="0.5"/>
<circle cx="423.2" cy="209.8" r="1.15" fill="#fff" stroke="#b8b8b8" stroke-width="0.5"/>
<circle cx="431.7" cy="209.1" r="1.15" fill="#fff" stroke="#b8b8b8" stroke-width="0.5"/>
<circle cx="380.1" cy="192.5" r="1.42" fill="#6e6e6e"/>
<circle cx="380.1" cy="193.5" r="1.42" fill="#6e6e6e"/>
<circle cx="380.1" cy="202" r="1.42" fill="#111"/>
<circle cx="380.1" cy="207.2" r="1.42" fill="#111"/>
<circle cx="388.5" cy="209.8" r="1.42" fill="#6e6e6e"/>
<circle cx="388.5" cy="212.9" r="1.42" fill="#6e6e6e"/>
<circle cx="388.5" cy="216.2" r="1.42" fill="#111"/>
<circle cx="388.5" cy="230.8" r="1.42" fill="#111"/>
<circle cx="395.4" cy="218" r="1.42" fill="#6e6e6e"/>
<circle cx="395.4" cy="223.3" r="1.42" fill="#111"/>
<circle cx="395.4" cy="225.7" r="1.42" fill="#111"/>
<circle cx="402.5" cy="219" r="1.42" fill="#6e6e6e"/>
<circle cx="402.5" cy="221.1" r="1.42" fill="#6e6e6e"/>
<circle cx="402.5" cy="222.6" r="1.42" fill="#6e6e6e"/>
<circle cx="409.4" cy="210.9" r="1.42" fill="#6e6e6e"/>
<circle cx="409.4" cy="213.8" r="1.42" fill="#6e6e6e"/>
<circle cx="409.4" cy="221.4" r="1.42" fill="#111"/>
<circle cx="416.3" cy="210.9" r="1.42" fill="#6e6e6e"/>
<circle cx="416.3" cy="212.3" r="1.42" fill="#6e6e6e"/>
<circle cx="416.3" cy="221.8" r="1.42" fill="#111"/>
<circle cx="416.3" cy="224.7" r="1.42" fill="#111"/>
<circle cx="423.2" cy="209.8" r="1.42" fill="#111"/>
<circle cx="423.2" cy="211.2" r="1.42" fill="#6e6e6e"/>
<circle cx="423.2" cy="216.2" r="1.42" fill="#6e6e6e"/>
<circle cx="431.7" cy="208.1" r="1.42" fill="#6e6e6e"/>
<circle cx="431.7" cy="209.8" r="1.42" fill="#6e6e6e"/>
<circle cx="431.7" cy="214" r="1.42" fill="#111"/>
<circle cx="431.7" cy="220" r="1.42" fill="#111"/>
<text x="447.12" y="135.2" font-size="11.6" font-weight="bold" fill="#000" stroke="#000" stroke-width="0.2">L</text>
<path d="M459.3 143.2V231.4" fill="none" stroke="#b4b4b4" stroke-width="1"/>
<path d="M458.8 231.4H517.8" fill="none" stroke="#9a9a9a" stroke-width="0.9"/>
<path d="M459.3 231.4h-1.9M459.3 202h-1.9M459.3 172.6h-1.9M459.3 143.2h-1.9" fill="none" stroke="#9a9a9a" stroke-width="0.8"/>
<path d="M459.3 222.55h-1.2M459.3 217.37h-1.2M459.3 213.7h-1.2M459.3 210.85h-1.2M459.3 208.52h-1.2M459.3 206.55h-1.2M459.3 204.85h-1.2M459.3 203.35h-1.2M459.3 193.15h-1.2M459.3 187.97h-1.2M459.3 184.3h-1.2M459.3 181.45h-1.2M459.3 179.12h-1.2M459.3 177.15h-1.2M459.3 175.45h-1.2M459.3 173.95h-1.2M459.3 163.75h-1.2M459.3 158.57h-1.2M459.3 154.9h-1.2M459.3 152.05h-1.2M459.3 149.72h-1.2M459.3 147.75h-1.2M459.3 146.05h-1.2M459.3 144.55h-1.2M466.3 231.4v1.6M473.2 231.4v1.6M480.1 231.4v1.6M487 231.4v1.6M493.9 231.4v1.6M500.8 231.4v1.6M507.7 231.4v1.6M514.6 231.4v1.6" fill="none" stroke="#9a9a9a" stroke-width="0.6"/>
<text x="0" y="0" font-size="5.8" text-anchor="end" fill="#222" stroke="#222" stroke-width="0.04" transform="translate(457.2 233.5) scale(0.95 1.13)">0.1</text>
<text x="0" y="0" font-size="5.8" text-anchor="end" fill="#222" stroke="#222" stroke-width="0.04" transform="translate(457.2 204.1) scale(0.95 1.13)">1</text>
<text x="0" y="0" font-size="5.8" text-anchor="end" fill="#222" stroke="#222" stroke-width="0.04" transform="translate(457.2 174.7) scale(0.95 1.13)">10</text>
<text x="0" y="0" font-size="5.8" text-anchor="end" fill="#222" stroke="#222" stroke-width="0.04" transform="translate(457.2 145.3) scale(0.95 1.13)">100</text>
<text x="0" y="0" font-size="4.8" text-anchor="end" fill="#000" stroke="#000" stroke-width="0.14" transform="translate(468.1 237) rotate(-45)">&lt;15</text>
<text x="0" y="0" font-size="4.8" text-anchor="end" fill="#000" stroke="#000" stroke-width="0.14" transform="translate(475 237) rotate(-45)">15-24</text>
<text x="0" y="0" font-size="4.8" text-anchor="end" fill="#000" stroke="#000" stroke-width="0.14" transform="translate(481.9 237) rotate(-45)">25-34</text>
<text x="0" y="0" font-size="4.8" text-anchor="end" fill="#000" stroke="#000" stroke-width="0.14" transform="translate(488.8 237) rotate(-45)">35-44</text>
<text x="0" y="0" font-size="4.8" text-anchor="end" fill="#000" stroke="#000" stroke-width="0.14" transform="translate(495.7 237) rotate(-45)">45-54</text>
<text x="0" y="0" font-size="4.8" text-anchor="end" fill="#000" stroke="#000" stroke-width="0.14" transform="translate(502.6 237) rotate(-45)">55-64</text>
<text x="0" y="0" font-size="4.8" text-anchor="end" fill="#000" stroke="#000" stroke-width="0.14" transform="translate(509.5 237) rotate(-45)">65-74</text>
<text x="0" y="0" font-size="4.8" text-anchor="end" fill="#000" stroke="#000" stroke-width="0.14" transform="translate(516.4 237) rotate(-45)">&gt;75</text>
<text x="0" y="0" font-size="6.1" fill="#111" stroke="#111" stroke-width="0.03" transform="translate(463.7 147.3) scale(1 1.12)">T-cell lymphoblastic</text>
<text x="0" y="0" font-size="6.1" fill="#111" stroke="#111" stroke-width="0.03" transform="translate(464.9 154.6) scale(1 1.12)">leukemia/lymphoma</text>
<clipPath id="c12"><rect x="459.3" y="137.2" width="62.5" height="94.2"/></clipPath>
<g clip-path="url(#c12)">
<polyline points="465.1 207.1 473.5 219.2 480.4 223.6 487.5 221 494.4 212.3" fill="none" stroke="#cfcfcf" stroke-width="0.55"/>
<polyline points="508.2 222.7 516.7 219.8" fill="none" stroke="#cfcfcf" stroke-width="0.55"/>
<polyline points="465.1 208.6 473.5 220.1 480.4 223.6 487.5 221 494.4 228.7" fill="none" stroke="#cfcfcf" stroke-width="0.55"/>
<polyline points="508.2 229 516.7 219.8" fill="none" stroke="#cfcfcf" stroke-width="0.55"/>
<polyline points="465.1 216.3 473.5 222.7 480.4 223.6 487.5 221 494.4 228.7" fill="none" stroke="#cfcfcf" stroke-width="0.55"/>
<polyline points="508.2 229 516.7 219.8" fill="none" stroke="#cfcfcf" stroke-width="0.55"/>
<polyline points="465.1 222.7 473.5 212.9 480.4 221 487.5 223.6" fill="none" stroke="#dedede" stroke-width="0.55"/>
<polyline points="465.1 222.7 473.5 212.9 480.4 221 487.5 223.6" fill="none" stroke="#dedede" stroke-width="0.55"/>
<path d="M465.1 208C466.5 208.67 470.95 210 473.5 212C476.05 214 478.07 218.33 480.4 220C482.73 221.67 485.17 220.75 487.5 222C489.83 223.25 492.1 226.83 494.4 227.5C496.7 228.17 499 225.5 501.3 226C503.6 226.5 505.63 231.17 508.2 230.5C510.77 229.83 515.28 223.42 516.7 222" fill="none" stroke="#b2b2b2" stroke-width="0.9"/>
<path d="M465.1 214C466.5 216 470.95 223.67 473.5 226C476.05 228.33 478.07 227.78 480.4 228C482.73 228.22 485.17 226.97 487.5 227.3C489.83 227.63 492.1 230.05 494.4 230C496.7 229.95 499 226.83 501.3 227C503.6 227.17 505.63 231.17 508.2 231C510.77 230.83 515.28 226.83 516.7 226" fill="none" stroke="#b2b2b2" stroke-width="0.9"/>
</g>
<rect x="463.95" y="206.85" width="2.3" height="2.3" fill="#fff" stroke="#b8b8b8" stroke-width="0.5"/>
<rect x="472.35" y="210.85" width="2.3" height="2.3" fill="#fff" stroke="#b8b8b8" stroke-width="0.5"/>
<rect x="479.25" y="218.85" width="2.3" height="2.3" fill="#fff" stroke="#b8b8b8" stroke-width="0.5"/>
<rect x="486.35" y="220.85" width="2.3" height="2.3" fill="#fff" stroke="#b8b8b8" stroke-width="0.5"/>
<rect x="493.25" y="226.35" width="2.3" height="2.3" fill="#fff" stroke="#b8b8b8" stroke-width="0.5"/>
<rect x="500.15" y="224.85" width="2.3" height="2.3" fill="#fff" stroke="#b8b8b8" stroke-width="0.5"/>
<rect x="507.05" y="229.35" width="2.3" height="2.3" fill="#fff" stroke="#b8b8b8" stroke-width="0.5"/>
<rect x="515.55" y="220.85" width="2.3" height="2.3" fill="#fff" stroke="#b8b8b8" stroke-width="0.5"/>
<circle cx="465.1" cy="214" r="1.15" fill="#fff" stroke="#b8b8b8" stroke-width="0.5"/>
<circle cx="473.5" cy="226" r="1.15" fill="#fff" stroke="#b8b8b8" stroke-width="0.5"/>
<circle cx="480.4" cy="228" r="1.15" fill="#fff" stroke="#b8b8b8" stroke-width="0.5"/>
<circle cx="487.5" cy="227.3" r="1.15" fill="#fff" stroke="#b8b8b8" stroke-width="0.5"/>
<circle cx="494.4" cy="230" r="1.15" fill="#fff" stroke="#b8b8b8" stroke-width="0.5"/>
<circle cx="501.3" cy="227" r="1.15" fill="#fff" stroke="#b8b8b8" stroke-width="0.5"/>
<circle cx="516.7" cy="226" r="1.15" fill="#fff" stroke="#b8b8b8" stroke-width="0.5"/>
<circle cx="465.1" cy="207.1" r="1.42" fill="#111"/>
<circle cx="465.1" cy="208.6" r="1.42" fill="#111"/>
<circle cx="465.1" cy="216.3" r="1.42" fill="#111"/>
<circle cx="465.1" cy="222.7" r="1.42" fill="#6e6e6e"/>
<circle cx="473.5" cy="212.9" r="1.42" fill="#6e6e6e"/>
<circle cx="473.5" cy="219.2" r="1.42" fill="#111"/>
<circle cx="473.5" cy="220.1" r="1.42" fill="#111"/>
<circle cx="473.5" cy="222.7" r="1.42" fill="#111"/>
<circle cx="480.4" cy="221" r="1.42" fill="#6e6e6e"/>
<circle cx="480.4" cy="223.6" r="1.42" fill="#111"/>
<circle cx="487.5" cy="221" r="1.42" fill="#111"/>
<circle cx="487.5" cy="223.6" r="1.42" fill="#6e6e6e"/>
<circle cx="494.4" cy="212.3" r="1.42" fill="#111"/>
<circle cx="494.4" cy="228.7" r="1.42" fill="#111"/>
<circle cx="501.3" cy="222.7" r="1.42" fill="#6e6e6e"/>
<circle cx="501.3" cy="226.7" r="1.42" fill="#6e6e6e"/>
<circle cx="508.2" cy="222.7" r="1.42" fill="#111"/>
<circle cx="508.2" cy="229" r="1.42" fill="#111"/>
<circle cx="516.7" cy="219.8" r="1.42" fill="#111"/>
<circle cx="516.7" cy="226.4" r="1.42" fill="#6e6e6e"/>
<text x="18.72" y="263.2" font-size="11.6" font-weight="bold" fill="#000" stroke="#000" stroke-width="0.2">M</text>
<path d="M30.9 270.5V358.7" fill="none" stroke="#b4b4b4" stroke-width="1"/>
<path d="M30.4 358.7H89.4" fill="none" stroke="#9a9a9a" stroke-width="0.9"/>
<path d="M30.9 358.7h-1.9M30.9 329.3h-1.9M30.9 299.9h-1.9M30.9 270.5h-1.9" fill="none" stroke="#9a9a9a" stroke-width="0.8"/>
<path d="M30.9 349.85h-1.2M30.9 344.67h-1.2M30.9 341h-1.2M30.9 338.15h-1.2M30.9 335.82h-1.2M30.9 333.85h-1.2M30.9 332.15h-1.2M30.9 330.65h-1.2M30.9 320.45h-1.2M30.9 315.27h-1.2M30.9 311.6h-1.2M30.9 308.75h-1.2M30.9 306.42h-1.2M30.9 304.45h-1.2M30.9 302.75h-1.2M30.9 301.25h-1.2M30.9 291.05h-1.2M30.9 285.87h-1.2M30.9 282.2h-1.2M30.9 279.35h-1.2M30.9 277.02h-1.2M30.9 275.05h-1.2M30.9 273.35h-1.2M30.9 271.85h-1.2M37.9 358.7v1.6M44.8 358.7v1.6M51.7 358.7v1.6M58.6 358.7v1.6M65.5 358.7v1.6M72.4 358.7v1.6M79.3 358.7v1.6M86.2 358.7v1.6" fill="none" stroke="#9a9a9a" stroke-width="0.6"/>
<text x="0" y="0" font-size="5.8" text-anchor="end" fill="#222" stroke="#222" stroke-width="0.04" transform="translate(28.8 360.8) scale(0.95 1.13)">0.1</text>
<text x="0" y="0" font-size="5.8" text-anchor="end" fill="#222" stroke="#222" stroke-width="0.04" transform="translate(28.8 331.4) scale(0.95 1.13)">1</text>
<text x="0" y="0" font-size="5.8" text-anchor="end" fill="#222" stroke="#222" stroke-width="0.04" transform="translate(28.8 302) scale(0.95 1.13)">10</text>
<text x="0" y="0" font-size="5.8" text-anchor="end" fill="#222" stroke="#222" stroke-width="0.04" transform="translate(28.8 272.6) scale(0.95 1.13)">100</text>
<text x="0" y="0" font-size="4.8" text-anchor="end" fill="#000" stroke="#000" stroke-width="0.14" transform="translate(39.7 364.3) rotate(-45)">&lt;15</text>
<text x="0" y="0" font-size="4.8" text-anchor="end" fill="#000" stroke="#000" stroke-width="0.14" transform="translate(46.6 364.3) rotate(-45)">15-24</text>
<text x="0" y="0" font-size="4.8" text-anchor="end" fill="#000" stroke="#000" stroke-width="0.14" transform="translate(53.5 364.3) rotate(-45)">25-34</text>
<text x="0" y="0" font-size="4.8" text-anchor="end" fill="#000" stroke="#000" stroke-width="0.14" transform="translate(60.4 364.3) rotate(-45)">35-44</text>
<text x="0" y="0" font-size="4.8" text-anchor="end" fill="#000" stroke="#000" stroke-width="0.14" transform="translate(67.3 364.3) rotate(-45)">45-54</text>
<text x="0" y="0" font-size="4.8" text-anchor="end" fill="#000" stroke="#000" stroke-width="0.14" transform="translate(74.2 364.3) rotate(-45)">55-64</text>
<text x="0" y="0" font-size="4.8" text-anchor="end" fill="#000" stroke="#000" stroke-width="0.14" transform="translate(81.1 364.3) rotate(-45)">65-74</text>
<text x="0" y="0" font-size="4.8" text-anchor="end" fill="#000" stroke="#000" stroke-width="0.14" transform="translate(88 364.3) rotate(-45)">&gt;75</text>
<text x="0" y="0" font-size="6.1" fill="#111" stroke="#111" stroke-width="0.03" transform="translate(33.2 276.6) scale(1 1.12)">Classical Hodgkin</text>
<text x="0" y="0" font-size="6.1" fill="#111" stroke="#111" stroke-width="0.03" transform="translate(33.2 283.9) scale(1 1.12)">lymphoma, nodular</text>
<text x="0" y="0" font-size="6.1" fill="#111" stroke="#111" stroke-width="0.03" transform="translate(33.2 291.2) scale(1 1.12)">sclerosis</text>
<clipPath id="c13"><rect x="30.9" y="264.5" width="62.5" height="94.2"/></clipPath>
<g clip-path="url(#c13)">
<polyline points="36.7 344.8 45.1 315.1 52 317.3 59.1 322.9 66 326.6 72.9 324 79.8 329.4 88.3 331.7" fill="none" stroke="#cfcfcf" stroke-width="0.55"/>
<polyline points="36.7 355.6 45.1 324 52 318.2 59.1 326.6 66 331.7 72.9 330.1 79.8 335.2 88.3 335.5" fill="none" stroke="#cfcfcf" stroke-width="0.55"/>
<polyline points="36.7 349.1 45.1 326.6 52 328.6 59.1 335.2 66 337.9 72.9 337.4 79.8 333.2 88.3 327" fill="none" stroke="#dedede" stroke-width="0.55"/>
<polyline points="36.7 349.1 45.1 329.1 52 333.7 59.1 335.2 66 342 72.9 341.7 79.8 344 88.3 346.1" fill="none" stroke="#dedede" stroke-width="0.55"/>
<path d="M36.7 340.5C38.1 335.68 42.55 316.42 45.1 311.6C47.65 306.78 49.67 310.2 52 311.6C54.33 313 56.77 317.87 59.1 320C61.43 322.13 63.7 323.57 66 324.4C68.3 325.23 70.6 325.2 72.9 325C75.2 324.8 77.23 323.88 79.8 323.2C82.37 322.52 86.88 321.28 88.3 320.9" fill="none" stroke="#b2b2b2" stroke-width="0.9"/>
<path d="M36.7 345C38.1 339.92 42.55 319.33 45.1 314.5C47.65 309.67 49.67 314.42 52 316C54.33 317.58 56.77 322.08 59.1 324C61.43 325.92 63.7 326.75 66 327.5C68.3 328.25 70.6 328.58 72.9 328.5C75.2 328.42 77.23 327.5 79.8 327C82.37 326.5 86.88 325.75 88.3 325.5" fill="none" stroke="#b2b2b2" stroke-width="0.9"/>
</g>
<rect x="35.55" y="339.35" width="2.3" height="2.3" fill="#fff" stroke="#b8b8b8" stroke-width="0.5"/>
<rect x="43.95" y="310.45" width="2.3" height="2.3" fill="#fff" stroke="#b8b8b8" stroke-width="0.5"/>
<rect x="50.85" y="310.45" width="2.3" height="2.3" fill="#fff" stroke="#b8b8b8" stroke-width="0.5"/>
<rect x="57.95" y="318.85" width="2.3" height="2.3" fill="#fff" stroke="#b8b8b8" stroke-width="0.5"/>
<rect x="64.85" y="323.25" width="2.3" height="2.3" fill="#fff" stroke="#b8b8b8" stroke-width="0.5"/>
<rect x="71.75" y="323.85" width="2.3" height="2.3" fill="#fff" stroke="#b8b8b8" stroke-width="0.5"/>
<rect x="78.65" y="322.05" width="2.3" height="2.3" fill="#fff" stroke="#b8b8b8" stroke-width="0.5"/>
<rect x="87.15" y="319.75" width="2.3" height="2.3" fill="#fff" stroke="#b8b8b8" stroke-width="0.5"/>
<circle cx="36.7" cy="345" r="1.15" fill="#fff" stroke="#b8b8b8" stroke-width="0.5"/>
<circle cx="45.1" cy="314.5" r="1.15" fill="#fff" stroke="#b8b8b8" stroke-width="0.5"/>
<circle cx="52" cy="316" r="1.15" fill="#fff" stroke="#b8b8b8" stroke-width="0.5"/>
<circle cx="59.1" cy="324" r="1.15" fill="#fff" stroke="#b8b8b8" stroke-width="0.5"/>
<circle cx="66" cy="327.5" r="1.15" fill="#fff" stroke="#b8b8b8" stroke-width="0.5"/>
<circle cx="72.9" cy="328.5" r="1.15" fill="#fff" stroke="#b8b8b8" stroke-width="0.5"/>
<circle cx="79.8" cy="327" r="1.15" fill="#fff" stroke="#b8b8b8" stroke-width="0.5"/>
<circle cx="88.3" cy="325.5" r="1.15" fill="#fff" stroke="#b8b8b8" stroke-width="0.5"/>
<circle cx="36.7" cy="344.8" r="1.42" fill="#111"/>
<circle cx="36.7" cy="349.1" r="1.42" fill="#6e6e6e"/>
<circle cx="36.7" cy="355.6" r="1.42" fill="#111"/>
<circle cx="45.1" cy="315.1" r="1.42" fill="#111"/>
<circle cx="45.1" cy="324" r="1.42" fill="#111"/>
<circle cx="45.1" cy="326.6" r="1.42" fill="#6e6e6e"/>
<circle cx="45.1" cy="329.1" r="1.42" fill="#6e6e6e"/>
<circle cx="52" cy="317.3" r="1.42" fill="#111"/>
<circle cx="52" cy="318.2" r="1.42" fill="#111"/>
<circle cx="52" cy="328.6" r="1.42" fill="#6e6e6e"/>
<circle cx="52" cy="333.7" r="1.42" fill="#6e6e6e"/>
<circle cx="59.1" cy="322.9" r="1.42" fill="#111"/>
<circle cx="59.1" cy="326.6" r="1.42" fill="#111"/>
<circle cx="59.1" cy="335.2" r="1.42" fill="#6e6e6e"/>
<circle cx="66" cy="326.6" r="1.42" fill="#111"/>
<circle cx="66" cy="331.7" r="1.42" fill="#111"/>
<circle cx="66" cy="337.9" r="1.42" fill="#6e6e6e"/>
<circle cx="66" cy="342" r="1.42" fill="#6e6e6e"/>
<circle cx="72.9" cy="324" r="1.42" fill="#111"/>
<circle cx="72.9" cy="330.1" r="1.42" fill="#111"/>
<circle cx="72.9" cy="337.4" r="1.42" fill="#6e6e6e"/>
<circle cx="72.9" cy="341.7" r="1.42" fill="#6e6e6e"/>
<circle cx="79.8" cy="329.4" r="1.42" fill="#111"/>
<circle cx="79.8" cy="335.2" r="1.42" fill="#111"/>
<circle cx="79.8" cy="333.2" r="1.42" fill="#6e6e6e"/>
<circle cx="79.8" cy="344" r="1.42" fill="#6e6e6e"/>
<circle cx="88.3" cy="327" r="1.42" fill="#6e6e6e"/>
<circle cx="88.3" cy="331.7" r="1.42" fill="#111"/>
<circle cx="88.3" cy="335.5" r="1.42" fill="#111"/>
<circle cx="88.3" cy="346.1" r="1.42" fill="#6e6e6e"/>
<text x="104.12" y="263.2" font-size="11.6" font-weight="bold" fill="#000" stroke="#000" stroke-width="0.2">N</text>
<path d="M116.3 270.5V358.7" fill="none" stroke="#b4b4b4" stroke-width="1"/>
<path d="M115.8 358.7H174.8" fill="none" stroke="#9a9a9a" stroke-width="0.9"/>
<path d="M116.3 358.7h-1.9M116.3 329.3h-1.9M116.3 299.9h-1.9M116.3 270.5h-1.9" fill="none" stroke="#9a9a9a" stroke-width="0.8"/>
<path d="M116.3 349.85h-1.2M116.3 344.67h-1.2M116.3 341h-1.2M116.3 338.15h-1.2M116.3 335.82h-1.2M116.3 333.85h-1.2M116.3 332.15h-1.2M116.3 330.65h-1.2M116.3 320.45h-1.2M116.3 315.27h-1.2M116.3 311.6h-1.2M116.3 308.75h-1.2M116.3 306.42h-1.2M116.3 304.45h-1.2M116.3 302.75h-1.2M116.3 301.25h-1.2M116.3 291.05h-1.2M116.3 285.87h-1.2M116.3 282.2h-1.2M116.3 279.35h-1.2M116.3 277.02h-1.2M116.3 275.05h-1.2M116.3 273.35h-1.2M116.3 271.85h-1.2M122.8 358.7v1.6M129.7 358.7v1.6M136.6 358.7v1.6M143.5 358.7v1.6M150.4 358.7v1.6M157.3 358.7v1.6M164.2 358.7v1.6M171.1 358.7v1.6" fill="none" stroke="#9a9a9a" stroke-width="0.6"/>
<text x="0" y="0" font-size="5.8" text-anchor="end" fill="#222" stroke="#222" stroke-width="0.04" transform="translate(114.2 360.8) scale(0.95 1.13)">0.1</text>
<text x="0" y="0" font-size="5.8" text-anchor="end" fill="#222" stroke="#222" stroke-width="0.04" transform="translate(114.2 331.4) scale(0.95 1.13)">1</text>
<text x="0" y="0" font-size="5.8" text-anchor="end" fill="#222" stroke="#222" stroke-width="0.04" transform="translate(114.2 302) scale(0.95 1.13)">10</text>
<text x="0" y="0" font-size="5.8" text-anchor="end" fill="#222" stroke="#222" stroke-width="0.04" transform="translate(114.2 272.6) scale(0.95 1.13)">100</text>
<text x="0" y="0" font-size="4.8" text-anchor="end" fill="#000" stroke="#000" stroke-width="0.14" transform="translate(124.6 364.3) rotate(-45)">&lt;15</text>
<text x="0" y="0" font-size="4.8" text-anchor="end" fill="#000" stroke="#000" stroke-width="0.14" transform="translate(131.5 364.3) rotate(-45)">15-24</text>
<text x="0" y="0" font-size="4.8" text-anchor="end" fill="#000" stroke="#000" stroke-width="0.14" transform="translate(138.4 364.3) rotate(-45)">25-34</text>
<text x="0" y="0" font-size="4.8" text-anchor="end" fill="#000" stroke="#000" stroke-width="0.14" transform="translate(145.3 364.3) rotate(-45)">35-44</text>
<text x="0" y="0" font-size="4.8" text-anchor="end" fill="#000" stroke="#000" stroke-width="0.14" transform="translate(152.2 364.3) rotate(-45)">45-54</text>
<text x="0" y="0" font-size="4.8" text-anchor="end" fill="#000" stroke="#000" stroke-width="0.14" transform="translate(159.1 364.3) rotate(-45)">55-64</text>
<text x="0" y="0" font-size="4.8" text-anchor="end" fill="#000" stroke="#000" stroke-width="0.14" transform="translate(166 364.3) rotate(-45)">65-74</text>
<text x="0" y="0" font-size="4.8" text-anchor="end" fill="#000" stroke="#000" stroke-width="0.14" transform="translate(172.9 364.3) rotate(-45)">&gt;75</text>
<text x="0" y="0" font-size="6.1" fill="#111" stroke="#111" stroke-width="0.03" transform="translate(120 273.8) scale(1 1.12)">Classical Hodgkin</text>
<text x="0" y="0" font-size="6.1" fill="#111" stroke="#111" stroke-width="0.03" transform="translate(120 281.1) scale(1 1.12)">lymphoma, mixed</text>
<text x="0" y="0" font-size="6.1" fill="#111" stroke="#111" stroke-width="0.03" transform="translate(120 288.4) scale(1 1.12)">cellularity/lymphocyte</text>
<text x="0" y="0" font-size="6.1" fill="#111" stroke="#111" stroke-width="0.03" transform="translate(120 295.7) scale(1 1.12)">depleted</text>
<clipPath id="c14"><rect x="116.3" y="264.5" width="62.5" height="94.2"/></clipPath>
<g clip-path="url(#c14)">
<polyline points="130 336.8 136.9 330.7 144 328.1 150.9 325.4 157.8 331.2 164.7 332.8 173.2 324.7" fill="none" stroke="#cfcfcf" stroke-width="0.55"/>
<polyline points="130 348.6 136.9 338.5 144 352.2 150.9 345.1 157.8 331.2 164.7 332.8 173.2 347.2" fill="none" stroke="#cfcfcf" stroke-width="0.55"/>
<polyline points="130 352.6 136.9 349.1 144 348.8 150.9 339.5 157.8 340.1 164.7 328.7 173.2 326.7" fill="none" stroke="#dedede" stroke-width="0.55"/>
<polyline points="130 357.5 136.9 349.1 144 356.9 150.9 339.5 157.8 341.9 164.7 330.1 173.2 330.7" fill="none" stroke="#dedede" stroke-width="0.55"/>
<polyline points="130 357.5 136.9 349.1 144 356.9 150.9 339.5 157.8 341.9 164.7 338.1 173.2 330.7" fill="none" stroke="#dedede" stroke-width="0.55"/>
<path d="M121.6 353.1C123 350.6 127.45 341.38 130 338.1C132.55 334.82 134.57 334.52 136.9 333.4C139.23 332.28 141.67 332.07 144 331.4C146.33 330.73 148.6 330.18 150.9 329.4C153.2 328.62 155.5 327.7 157.8 326.7C160.1 325.7 162.13 324.52 164.7 323.4C167.27 322.28 171.78 320.57 173.2 320" fill="none" stroke="#b2b2b2" stroke-width="0.9"/>
<path d="M121.6 358C123 355.92 127.45 347.58 130 345.5C132.55 343.42 134.57 345.22 136.9 345.5C139.23 345.78 141.67 348.2 144 347.2C146.33 346.2 148.6 341.57 150.9 339.5C153.2 337.43 155.5 336.7 157.8 334.8C160.1 332.9 162.13 329.55 164.7 328.1C167.27 326.65 171.78 326.43 173.2 326.1" fill="none" stroke="#b2b2b2" stroke-width="0.9"/>
</g>
<rect x="120.45" y="351.95" width="2.3" height="2.3" fill="#fff" stroke="#b8b8b8" stroke-width="0.5"/>
<rect x="128.85" y="336.95" width="2.3" height="2.3" fill="#fff" stroke="#b8b8b8" stroke-width="0.5"/>
<rect x="135.75" y="332.25" width="2.3" height="2.3" fill="#fff" stroke="#b8b8b8" stroke-width="0.5"/>
<rect x="142.85" y="330.25" width="2.3" height="2.3" fill="#fff" stroke="#b8b8b8" stroke-width="0.5"/>
<rect x="149.75" y="328.25" width="2.3" height="2.3" fill="#fff" stroke="#b8b8b8" stroke-width="0.5"/>
<rect x="156.65" y="325.55" width="2.3" height="2.3" fill="#fff" stroke="#b8b8b8" stroke-width="0.5"/>
<rect x="163.55" y="322.25" width="2.3" height="2.3" fill="#fff" stroke="#b8b8b8" stroke-width="0.5"/>
<rect x="172.05" y="318.85" width="2.3" height="2.3" fill="#fff" stroke="#b8b8b8" stroke-width="0.5"/>
<circle cx="121.6" cy="358" r="1.15" fill="#fff" stroke="#b8b8b8" stroke-width="0.5"/>
<circle cx="130" cy="345.5" r="1.15" fill="#fff" stroke="#b8b8b8" stroke-width="0.5"/>
<circle cx="136.9" cy="345.5" r="1.15" fill="#fff" stroke="#b8b8b8" stroke-width="0.5"/>
<circle cx="144" cy="347.2" r="1.15" fill="#fff" stroke="#b8b8b8" stroke-width="0.5"/>
<circle cx="150.9" cy="339.5" r="1.15" fill="#fff" stroke="#b8b8b8" stroke-width="0.5"/>
<circle cx="157.8" cy="334.8" r="1.15" fill="#fff" stroke="#b8b8b8" stroke-width="0.5"/>
<circle cx="164.7" cy="328.1" r="1.15" fill="#fff" stroke="#b8b8b8" stroke-width="0.5"/>
<circle cx="173.2" cy="326.1" r="1.15" fill="#fff" stroke="#b8b8b8" stroke-width="0.5"/>
<circle cx="130" cy="336.8" r="1.42" fill="#111"/>
<circle cx="130" cy="348.6" r="1.42" fill="#111"/>
<circle cx="130" cy="352.6" r="1.42" fill="#6e6e6e"/>
<circle cx="130" cy="357.5" r="1.42" fill="#6e6e6e"/>
<circle cx="136.9" cy="330.7" r="1.42" fill="#111"/>
<circle cx="136.9" cy="338.5" r="1.42" fill="#111"/>
<circle cx="136.9" cy="349.1" r="1.42" fill="#6e6e6e"/>
<circle cx="144" cy="328.1" r="1.42" fill="#111"/>
<circle cx="144" cy="348.8" r="1.42" fill="#6e6e6e"/>
<circle cx="144" cy="352.2" r="1.42" fill="#111"/>
<circle cx="144" cy="356.9" r="1.42" fill="#6e6e6e"/>
<circle cx="150.9" cy="325.4" r="1.42" fill="#111"/>
<circle cx="150.9" cy="339.5" r="1.42" fill="#6e6e6e"/>
<circle cx="150.9" cy="345.1" r="1.42" fill="#111"/>
<circle cx="157.8" cy="331.2" r="1.42" fill="#111"/>
<circle cx="157.8" cy="340.1" r="1.42" fill="#6e6e6e"/>
<circle cx="157.8" cy="341.9" r="1.42" fill="#6e6e6e"/>
<circle cx="164.7" cy="328.7" r="1.42" fill="#6e6e6e"/>
<circle cx="164.7" cy="330.1" r="1.42" fill="#6e6e6e"/>
<circle cx="164.7" cy="332.8" r="1.42" fill="#111"/>
<circle cx="164.7" cy="338.1" r="1.42" fill="#6e6e6e"/>
<circle cx="173.2" cy="324.7" r="1.42" fill="#111"/>
<circle cx="173.2" cy="326.7" r="1.42" fill="#6e6e6e"/>
<circle cx="173.2" cy="330.7" r="1.42" fill="#6e6e6e"/>
<circle cx="173.2" cy="347.2" r="1.42" fill="#111"/>
<text x="189.52" y="263.2" font-size="11.6" font-weight="bold" fill="#000" stroke="#000" stroke-width="0.2">O</text>
<path d="M201.4 270.5V358.7" fill="none" stroke="#b4b4b4" stroke-width="1"/>
<path d="M200.9 358.7H259.9" fill="none" stroke="#9a9a9a" stroke-width="0.9"/>
<path d="M201.4 358.7h-1.9M201.4 329.3h-1.9M201.4 299.9h-1.9M201.4 270.5h-1.9" fill="none" stroke="#9a9a9a" stroke-width="0.8"/>
<path d="M201.4 349.85h-1.2M201.4 344.67h-1.2M201.4 341h-1.2M201.4 338.15h-1.2M201.4 335.82h-1.2M201.4 333.85h-1.2M201.4 332.15h-1.2M201.4 330.65h-1.2M201.4 320.45h-1.2M201.4 315.27h-1.2M201.4 311.6h-1.2M201.4 308.75h-1.2M201.4 306.42h-1.2M201.4 304.45h-1.2M201.4 302.75h-1.2M201.4 301.25h-1.2M201.4 291.05h-1.2M201.4 285.87h-1.2M201.4 282.2h-1.2M201.4 279.35h-1.2M201.4 277.02h-1.2M201.4 275.05h-1.2M201.4 273.35h-1.2M201.4 271.85h-1.2M208.1 358.7v1.6M215 358.7v1.6M221.9 358.7v1.6M228.8 358.7v1.6M235.7 358.7v1.6M242.6 358.7v1.6M249.5 358.7v1.6M256.4 358.7v1.6" fill="none" stroke="#9a9a9a" stroke-width="0.6"/>
<text x="0" y="0" font-size="5.8" text-anchor="end" fill="#222" stroke="#222" stroke-width="0.04" transform="translate(199.3 360.8) scale(0.95 1.13)">0.1</text>
<text x="0" y="0" font-size="5.8" text-anchor="end" fill="#222" stroke="#222" stroke-width="0.04" transform="translate(199.3 331.4) scale(0.95 1.13)">1</text>
<text x="0" y="0" font-size="5.8" text-anchor="end" fill="#222" stroke="#222" stroke-width="0.04" transform="translate(199.3 302) scale(0.95 1.13)">10</text>
<text x="0" y="0" font-size="5.8" text-anchor="end" fill="#222" stroke="#222" stroke-width="0.04" transform="translate(199.3 272.6) scale(0.95 1.13)">100</text>
<text x="0" y="0" font-size="4.8" text-anchor="end" fill="#000" stroke="#000" stroke-width="0.14" transform="translate(209.9 364.3) rotate(-45)">&lt;15</text>
<text x="0" y="0" font-size="4.8" text-anchor="end" fill="#000" stroke="#000" stroke-width="0.14" transform="translate(216.8 364.3) rotate(-45)">15-24</text>
<text x="0" y="0" font-size="4.8" text-anchor="end" fill="#000" stroke="#000" stroke-width="0.14" transform="translate(223.7 364.3) rotate(-45)">25-34</text>
<text x="0" y="0" font-size="4.8" text-anchor="end" fill="#000" stroke="#000" stroke-width="0.14" transform="translate(230.6 364.3) rotate(-45)">35-44</text>
<text x="0" y="0" font-size="4.8" text-anchor="end" fill="#000" stroke="#000" stroke-width="0.14" transform="translate(237.5 364.3) rotate(-45)">45-54</text>
<text x="0" y="0" font-size="4.8" text-anchor="end" fill="#000" stroke="#000" stroke-width="0.14" transform="translate(244.4 364.3) rotate(-45)">55-64</text>
<text x="0" y="0" font-size="4.8" text-anchor="end" fill="#000" stroke="#000" stroke-width="0.14" transform="translate(251.3 364.3) rotate(-45)">65-74</text>
<text x="0" y="0" font-size="4.8" text-anchor="end" fill="#000" stroke="#000" stroke-width="0.14" transform="translate(258.2 364.3) rotate(-45)">&gt;75</text>
<text x="0" y="0" font-size="6.1" fill="#111" stroke="#111" stroke-width="0.03" transform="translate(206 274.2) scale(1 1.12)">Nodular lymphocyte</text>
<text x="0" y="0" font-size="6.1" fill="#111" stroke="#111" stroke-width="0.03" transform="translate(206 281.5) scale(1 1.12)">predominant</text>
<text x="0" y="0" font-size="6.1" fill="#111" stroke="#111" stroke-width="0.03" transform="translate(206 288.8) scale(1 1.12)">Hodgkin lymphoma</text>
<clipPath id="c15"><rect x="201.4" y="264.5" width="62.5" height="94.2"/></clipPath>
<g clip-path="url(#c15)">
<polyline points="215.3 346.5 222.2 347.5 229.3 340.2 236.2 337.5 243.1 351.7 250 356.3" fill="none" stroke="#cfcfcf" stroke-width="0.55"/>
<polyline points="215.3 346.5 222.2 347.5 229.3 345.4 236.2 349.8 243.1 351.7 250 356.3" fill="none" stroke="#cfcfcf" stroke-width="0.55"/>
<path d="M215.3 352.9C216.45 353.15 219.87 354.08 222.2 354.4C224.53 354.72 226.97 354.8 229.3 354.8C231.63 354.8 233.9 355.62 236.2 354.4C238.5 353.18 240.8 346.9 243.1 347.5C245.4 348.1 248.85 356.25 250 358" fill="none" stroke="#b2b2b2" stroke-width="0.9"/>
<path d="M215.3 351C216.45 351.67 219.87 354.25 222.2 355C224.53 355.75 226.97 355.5 229.3 355.5C231.63 355.5 233.9 356.08 236.2 355C238.5 353.92 240.8 348.42 243.1 349C245.4 349.58 248.85 356.92 250 358.5" fill="none" stroke="#b2b2b2" stroke-width="0.9"/>
</g>
<rect x="214.15" y="351.75" width="2.3" height="2.3" fill="#fff" stroke="#b8b8b8" stroke-width="0.5"/>
<rect x="221.05" y="353.25" width="2.3" height="2.3" fill="#fff" stroke="#b8b8b8" stroke-width="0.5"/>
<rect x="228.15" y="353.65" width="2.3" height="2.3" fill="#fff" stroke="#b8b8b8" stroke-width="0.5"/>
<rect x="235.05" y="353.25" width="2.3" height="2.3" fill="#fff" stroke="#b8b8b8" stroke-width="0.5"/>
<rect x="241.95" y="346.35" width="2.3" height="2.3" fill="#fff" stroke="#b8b8b8" stroke-width="0.5"/>
<rect x="248.85" y="356.85" width="2.3" height="2.3" fill="#fff" stroke="#b8b8b8" stroke-width="0.5"/>
<circle cx="215.3" cy="351" r="1.15" fill="#fff" stroke="#b8b8b8" stroke-width="0.5"/>
<circle cx="222.2" cy="355" r="1.15" fill="#fff" stroke="#b8b8b8" stroke-width="0.5"/>
<circle cx="229.3" cy="355.5" r="1.15" fill="#fff" stroke="#b8b8b8" stroke-width="0.5"/>
<circle cx="236.2" cy="355" r="1.15" fill="#fff" stroke="#b8b8b8" stroke-width="0.5"/>
<circle cx="243.1" cy="349" r="1.15" fill="#fff" stroke="#b8b8b8" stroke-width="0.5"/>
<circle cx="215.3" cy="346.5" r="1.42" fill="#111"/>
<circle cx="222.2" cy="347.5" r="1.42" fill="#111"/>
<circle cx="229.3" cy="340.2" r="1.42" fill="#111"/>
<circle cx="229.3" cy="345.4" r="1.42" fill="#111"/>
<circle cx="236.2" cy="337.5" r="1.42" fill="#111"/>
<circle cx="236.2" cy="349.8" r="1.42" fill="#111"/>
<circle cx="243.1" cy="351.7" r="1.42" fill="#111"/>
<circle cx="250" cy="356.3" r="1.42" fill="#111"/>
<text x="274.22" y="263.2" font-size="11.6" font-weight="bold" fill="#000" stroke="#000" stroke-width="0.2">P</text>
<path d="M286.4 270.5V358.7" fill="none" stroke="#b4b4b4" stroke-width="1"/>
<path d="M285.9 358.7H344.9" fill="none" stroke="#9a9a9a" stroke-width="0.9"/>
<path d="M286.4 358.7h-1.9M286.4 329.3h-1.9M286.4 299.9h-1.9M286.4 270.5h-1.9" fill="none" stroke="#9a9a9a" stroke-width="0.8"/>
<path d="M286.4 349.85h-1.2M286.4 344.67h-1.2M286.4 341h-1.2M286.4 338.15h-1.2M286.4 335.82h-1.2M286.4 333.85h-1.2M286.4 332.15h-1.2M286.4 330.65h-1.2M286.4 320.45h-1.2M286.4 315.27h-1.2M286.4 311.6h-1.2M286.4 308.75h-1.2M286.4 306.42h-1.2M286.4 304.45h-1.2M286.4 302.75h-1.2M286.4 301.25h-1.2M286.4 291.05h-1.2M286.4 285.87h-1.2M286.4 282.2h-1.2M286.4 279.35h-1.2M286.4 277.02h-1.2M286.4 275.05h-1.2M286.4 273.35h-1.2M286.4 271.85h-1.2M293.1 358.7v1.6M300 358.7v1.6M306.9 358.7v1.6M313.8 358.7v1.6M320.7 358.7v1.6M327.6 358.7v1.6M334.5 358.7v1.6M341.4 358.7v1.6" fill="none" stroke="#9a9a9a" stroke-width="0.6"/>
<text x="0" y="0" font-size="5.8" text-anchor="end" fill="#222" stroke="#222" stroke-width="0.04" transform="translate(284.3 360.8) scale(0.95 1.13)">0.1</text>
<text x="0" y="0" font-size="5.8" text-anchor="end" fill="#222" stroke="#222" stroke-width="0.04" transform="translate(284.3 331.4) scale(0.95 1.13)">1</text>
<text x="0" y="0" font-size="5.8" text-anchor="end" fill="#222" stroke="#222" stroke-width="0.04" transform="translate(284.3 302) scale(0.95 1.13)">10</text>
<text x="0" y="0" font-size="5.8" text-anchor="end" fill="#222" stroke="#222" stroke-width="0.04" transform="translate(284.3 272.6) scale(0.95 1.13)">100</text>
<text x="0" y="0" font-size="4.8" text-anchor="end" fill="#000" stroke="#000" stroke-width="0.14" transform="translate(294.9 364.3) rotate(-45)">&lt;15</text>
<text x="0" y="0" font-size="4.8" text-anchor="end" fill="#000" stroke="#000" stroke-width="0.14" transform="translate(301.8 364.3) rotate(-45)">15-24</text>
<text x="0" y="0" font-size="4.8" text-anchor="end" fill="#000" stroke="#000" stroke-width="0.14" transform="translate(308.7 364.3) rotate(-45)">25-34</text>
<text x="0" y="0" font-size="4.8" text-anchor="end" fill="#000" stroke="#000" stroke-width="0.14" transform="translate(315.6 364.3) rotate(-45)">35-44</text>
<text x="0" y="0" font-size="4.8" text-anchor="end" fill="#000" stroke="#000" stroke-width="0.14" transform="translate(322.5 364.3) rotate(-45)">45-54</text>
<text x="0" y="0" font-size="4.8" text-anchor="end" fill="#000" stroke="#000" stroke-width="0.14" transform="translate(329.4 364.3) rotate(-45)">55-64</text>
<text x="0" y="0" font-size="4.8" text-anchor="end" fill="#000" stroke="#000" stroke-width="0.14" transform="translate(336.3 364.3) rotate(-45)">65-74</text>
<text x="0" y="0" font-size="4.8" text-anchor="end" fill="#000" stroke="#000" stroke-width="0.14" transform="translate(343.2 364.3) rotate(-45)">&gt;75</text>
<text x="0" y="0" font-size="6.1" fill="#111" stroke="#111" stroke-width="0.03" transform="translate(290 275.6) scale(1 1.12)">Unknown type</text>
<text x="0" y="0" font-size="6.1" fill="#111" stroke="#111" stroke-width="0.03" transform="translate(291.3 282.9) scale(1 1.12)">lymphoid neoplasms</text>
<clipPath id="c16"><rect x="286.4" y="264.5" width="62.5" height="94.2"/></clipPath>
<g clip-path="url(#c16)">
<polyline points="300.3 341.5 307.2 315.8 314.3 308.4 321.2 313.2 328.1 311.8 335 303.8 343.5 296.5" fill="none" stroke="#cfcfcf" stroke-width="0.55"/>
<polyline points="300.3 356 307.2 335.6 314.3 328.3 321.2 321.1 328.1 320.7 335 309.8 343.5 300.9" fill="none" stroke="#cfcfcf" stroke-width="0.55"/>
<polyline points="307.2 342.9 314.3 337 321.2 323.7 328.1 318.3 335 304.8 343.5 298.5" fill="none" stroke="#dedede" stroke-width="0.55"/>
<polyline points="307.2 349.5 314.3 344.1 321.2 334.6 328.1 322.3 335 314.4 343.5 304.8" fill="none" stroke="#dedede" stroke-width="0.55"/>
<path d="M291.9 362C293.3 358.33 297.75 346.88 300.3 340C302.85 333.12 304.87 324.58 307.2 320.7C309.53 316.82 311.97 317.37 314.3 316.7C316.63 316.03 318.9 317.18 321.2 316.7C323.5 316.22 325.8 316.43 328.1 313.8C330.4 311.17 332.43 304.55 335 300.9C337.57 297.25 342.08 293.4 343.5 291.9" fill="none" stroke="#b2b2b2" stroke-width="0.9"/>
<path d="M300.3 358C301.45 354.67 304.87 343.5 307.2 338C309.53 332.5 311.97 328.33 314.3 325C316.63 321.67 318.9 320 321.2 318C323.5 316 325.8 315 328.1 313C330.4 311 332.43 308.83 335 306C337.57 303.17 342.08 297.67 343.5 296" fill="none" stroke="#b2b2b2" stroke-width="0.9"/>
</g>
<rect x="299.15" y="338.85" width="2.3" height="2.3" fill="#fff" stroke="#b8b8b8" stroke-width="0.5"/>
<rect x="306.05" y="319.55" width="2.3" height="2.3" fill="#fff" stroke="#b8b8b8" stroke-width="0.5"/>
<rect x="313.15" y="315.55" width="2.3" height="2.3" fill="#fff" stroke="#b8b8b8" stroke-width="0.5"/>
<rect x="320.05" y="315.55" width="2.3" height="2.3" fill="#fff" stroke="#b8b8b8" stroke-width="0.5"/>
<rect x="326.95" y="312.65" width="2.3" height="2.3" fill="#fff" stroke="#b8b8b8" stroke-width="0.5"/>
<rect x="333.85" y="299.75" width="2.3" height="2.3" fill="#fff" stroke="#b8b8b8" stroke-width="0.5"/>
<rect x="342.35" y="290.75" width="2.3" height="2.3" fill="#fff" stroke="#b8b8b8" stroke-width="0.5"/>
<circle cx="300.3" cy="358" r="1.15" fill="#fff" stroke="#b8b8b8" stroke-width="0.5"/>
<circle cx="307.2" cy="338" r="1.15" fill="#fff" stroke="#b8b8b8" stroke-width="0.5"/>
<circle cx="314.3" cy="325" r="1.15" fill="#fff" stroke="#b8b8b8" stroke-width="0.5"/>
<circle cx="321.2" cy="318" r="1.15" fill="#fff" stroke="#b8b8b8" stroke-width="0.5"/>
<circle cx="328.1" cy="313" r="1.15" fill="#fff" stroke="#b8b8b8" stroke-width="0.5"/>
<circle cx="335" cy="306" r="1.15" fill="#fff" stroke="#b8b8b8" stroke-width="0.5"/>
<circle cx="343.5" cy="296" r="1.15" fill="#fff" stroke="#b8b8b8" stroke-width="0.5"/>
<circle cx="300.3" cy="341.5" r="1.42" fill="#111"/>
<circle cx="300.3" cy="356" r="1.42" fill="#111"/>
<circle cx="307.2" cy="315.8" r="1.42" fill="#111"/>
<circle cx="307.2" cy="335.6" r="1.42" fill="#111"/>
<circle cx="307.2" cy="342.9" r="1.42" fill="#6e6e6e"/>
<circle cx="307.2" cy="349.5" r="1.42" fill="#6e6e6e"/>
<circle cx="314.3" cy="308.4" r="1.42" fill="#111"/>
<circle cx="314.3" cy="328.3" r="1.42" fill="#111"/>
<circle cx="314.3" cy="337" r="1.42" fill="#6e6e6e"/>
<circle cx="314.3" cy="344.1" r="1.42" fill="#6e6e6e"/>
<circle cx="321.2" cy="313.2" r="1.42" fill="#111"/>
<circle cx="321.2" cy="321.1" r="1.42" fill="#111"/>
<circle cx="321.2" cy="323.7" r="1.42" fill="#6e6e6e"/>
<circle cx="321.2" cy="334.6" r="1.42" fill="#6e6e6e"/>
<circle cx="328.1" cy="311.8" r="1.42" fill="#111"/>
<circle cx="328.1" cy="318.3" r="1.42" fill="#6e6e6e"/>
<circle cx="328.1" cy="320.7" r="1.42" fill="#111"/>
<circle cx="328.1" cy="322.3" r="1.42" fill="#6e6e6e"/>
<circle cx="335" cy="303.8" r="1.42" fill="#111"/>
<circle cx="335" cy="304.8" r="1.42" fill="#6e6e6e"/>
<circle cx="335" cy="309.8" r="1.42" fill="#111"/>
<circle cx="335" cy="314.4" r="1.42" fill="#6e6e6e"/>
<circle cx="343.5" cy="296.5" r="1.42" fill="#111"/>
<circle cx="343.5" cy="298.5" r="1.42" fill="#6e6e6e"/>
<circle cx="343.5" cy="300.9" r="1.42" fill="#111"/>
<circle cx="343.5" cy="304.8" r="1.42" fill="#6e6e6e"/>
<text x="0" y="0" font-size="9.7" fill="#000" transform="translate(8.5 256) rotate(-90)">Rate per 100,000 person-years<tspan font-size="6.5" dy="-3.5">*</tspan></text>
<text x="158.4" y="385.5" font-size="9.7" fill="#000">Age (years)</text>
<rect x="367.5" y="291.5" width="53" height="44" fill="#fff" stroke="#444" stroke-width="0.8"/>
<path d="M372.4 299.2H384.7" stroke="#b0b0b0" stroke-width="0.6"/>
<rect x="376.8" y="297.8" width="2.8" height="2.8" fill="#fff" stroke="#aaa" stroke-width="0.55"/>
<text x="0" y="0" font-size="4.7" fill="#111" transform="translate(386.3 301) scale(1 1.15)">White Male</text>
<path d="M372.4 304.92H384.7" stroke="#b0b0b0" stroke-width="0.6"/>
<circle cx="378.2" cy="304.92" r="1.35" fill="#fff" stroke="#aaa" stroke-width="0.55"/>
<text x="0" y="0" font-size="4.7" fill="#111" transform="translate(386.3 306.72) scale(1 1.15)">White Female</text>
<path d="M372.4 310.64H384.7" stroke="#e0e0e0" stroke-width="0.6"/>
<circle cx="378.2" cy="310.64" r="1.3" fill="#000"/>
<text x="0" y="0" font-size="4.7" fill="#111" transform="translate(386.3 312.44) scale(1 1.15)">Black Male</text>
<path d="M372.4 316.36H384.7" stroke="#e0e0e0" stroke-width="0.6"/>
<circle cx="378.2" cy="316.36" r="1.3" fill="#000"/>
<text x="0" y="0" font-size="4.7" fill="#111" transform="translate(386.3 318.16) scale(1 1.15)">Black Female</text>
<path d="M372.4 322.08H384.7" stroke="#e0e0e0" stroke-width="0.6"/>
<circle cx="378.2" cy="322.08" r="1.3" fill="#6a6a6a"/>
<text x="0" y="0" font-size="4.7" fill="#111" transform="translate(386.3 323.88) scale(1 1.15)">Asian Male</text>
<path d="M372.4 327.8H384.7" stroke="#e0e0e0" stroke-width="0.6"/>
<circle cx="378.2" cy="327.8" r="1.3" fill="#6a6a6a"/>
<text x="0" y="0" font-size="4.7" fill="#111" transform="translate(386.3 329.6) scale(1 1.15)">Asian Female</text>
</svg></body></html>
